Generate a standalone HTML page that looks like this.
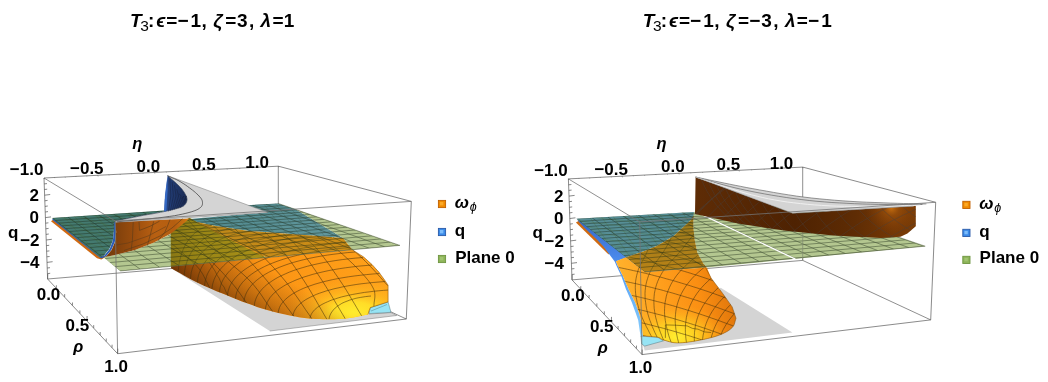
<!DOCTYPE html>
<html lang="en"><head><meta charset="utf-8"><title>T3 plots</title>
<style>html,body{margin:0;padding:0;background:#fff;}body{width:1048px;height:382px;overflow:hidden;}svg{display:block;}text{font-family:"Liberation Sans","DejaVu Sans",sans-serif;}</style></head>
<body>
<svg width="1048" height="382" viewBox="0 0 1048 382" font-family="'Liberation Sans', 'DejaVu Sans', sans-serif" fill="#000">
<defs>
<linearGradient id="gBlobL" gradientUnits="userSpaceOnUse" x1="171" y1="0" x2="392" y2="0">
 <stop offset="0" stop-color="#a0500c"/><stop offset="0.08" stop-color="#c4660e"/><stop offset="0.22" stop-color="#ea8412"/>
 <stop offset="0.42" stop-color="#fc9414"/><stop offset="1" stop-color="#ffa21a"/></linearGradient>
<radialGradient id="gBlobL2" gradientUnits="userSpaceOnUse" cx="354" cy="312" r="70" gradientTransform="translate(354 312) scale(1 0.48) translate(-354 -312)">
 <stop offset="0" stop-color="#ffec2e"/><stop offset="0.3" stop-color="#ffe028" stop-opacity="0.95"/><stop offset="0.6" stop-color="#ffc421" stop-opacity="0.55"/><stop offset="1" stop-color="#ffb020" stop-opacity="0"/></radialGradient>
<linearGradient id="gBlobL3" gradientUnits="userSpaceOnUse" x1="216" y1="302" x2="244" y2="254">
 <stop offset="0" stop-color="#4e2202" stop-opacity="0.7"/><stop offset="0.5" stop-color="#5a2804" stop-opacity="0.3"/><stop offset="1" stop-color="#6a3006" stop-opacity="0"/></linearGradient>
<linearGradient id="gOliveL" gradientUnits="userSpaceOnUse" x1="190" y1="0" x2="352" y2="0">
 <stop offset="0" stop-color="#bc881a"/><stop offset="0.5" stop-color="#c68a18"/><stop offset="1" stop-color="#cf8e16"/></linearGradient>
<linearGradient id="gTealR6" gradientUnits="userSpaceOnUse" x1="190" y1="0" x2="340" y2="0">
 <stop offset="0" stop-color="#4e878c"/><stop offset="1" stop-color="#62989e"/></linearGradient>
<linearGradient id="gOliveL2" gradientUnits="userSpaceOnUse" x1="171" y1="0" x2="266" y2="0">
 <stop offset="0" stop-color="#8a7814"/><stop offset="0.3" stop-color="#9a8616"/><stop offset="1" stop-color="#a89018"/></linearGradient>
<linearGradient id="gWallL" gradientUnits="userSpaceOnUse" x1="112" y1="0" x2="190" y2="0">
 <stop offset="0" stop-color="#7a3e0c"/><stop offset="0.3" stop-color="#9c4e0e"/><stop offset="0.55" stop-color="#b86012"/><stop offset="0.8" stop-color="#b45e10"/><stop offset="0.93" stop-color="#c87012"/><stop offset="1" stop-color="#e08a16"/></linearGradient>
<linearGradient id="gSpire" gradientUnits="userSpaceOnUse" x1="165" y1="0" x2="188" y2="0">
 <stop offset="0" stop-color="#28488a"/><stop offset="0.3" stop-color="#213a70"/><stop offset="1" stop-color="#1a2a52"/></linearGradient>
<linearGradient id="gBlueR" gradientUnits="userSpaceOnUse" x1="0" y1="220" x2="0" y2="340">
 <stop offset="0" stop-color="#3468c8"/><stop offset="0.3" stop-color="#4a88ea"/><stop offset="0.55" stop-color="#64acf6"/><stop offset="1" stop-color="#8ad0fc"/></linearGradient>
<linearGradient id="gOliveR" gradientUnits="userSpaceOnUse" x1="0" y1="215" x2="0" y2="270">
 <stop offset="0" stop-color="#9a7a1e"/><stop offset="0.5" stop-color="#a87e1a"/><stop offset="1" stop-color="#b88216"/></linearGradient>
<linearGradient id="gSurfR" gradientUnits="userSpaceOnUse" x1="98" y1="292" x2="212" y2="268">
 <stop offset="0" stop-color="#ffb22c"/><stop offset="0.35" stop-color="#ff9e1c"/><stop offset="0.65" stop-color="#fa8e12"/><stop offset="0.88" stop-color="#e47a0c"/><stop offset="1" stop-color="#bc5c06"/></linearGradient>
<radialGradient id="gSurfR2" gradientUnits="userSpaceOnUse" cx="152" cy="336" r="52" gradientTransform="translate(152 336) scale(1 0.62) translate(-152 -336)">
 <stop offset="0" stop-color="#ffee30"/><stop offset="0.4" stop-color="#ffd822" stop-opacity="0.85"/><stop offset="1" stop-color="#ffb020" stop-opacity="0"/></radialGradient>
<linearGradient id="gWallR" gradientUnits="userSpaceOnUse" x1="171" y1="0" x2="392" y2="0">
 <stop offset="0" stop-color="#5e2c06"/><stop offset="0.45" stop-color="#4e2202"/><stop offset="0.72" stop-color="#5e2c04"/><stop offset="0.9" stop-color="#743806"/><stop offset="1" stop-color="#7a3c06"/></linearGradient>
<radialGradient id="gWallR2" gradientUnits="userSpaceOnUse" cx="367" cy="207" r="26">
 <stop offset="0" stop-color="#c87010"/><stop offset="0.3" stop-color="#a8580c" stop-opacity="0.55"/><stop offset="1" stop-color="#8a4208" stop-opacity="0"/></radialGradient>
</defs>
<g><line x1="278.3" y1="166.2" x2="278.3" y2="259.5" stroke="#5e5e5e" stroke-width="0.7" />
<line x1="47.6" y1="279.0" x2="278.3" y2="259.5" stroke="#5e5e5e" stroke-width="0.7" />
<line x1="278.3" y1="259.5" x2="406.3" y2="319.0" stroke="#5e5e5e" stroke-width="0.7" />
<polygon points="51.0,221.2 54.0,219.0 104.0,255.5 105.4,256.9 101.4,259.6 97.0,258.2" fill="#d06a12" />
<polygon points="52.0,219.4 54.5,218.6 104.0,255.2 100.3,258.0 98.6,256.6 61.0,226.6" fill="#2a5cb4" />
<polygon points="171.2,268.2 269.8,331.0 396.7,315.5 391.0,312.6 369.0,314.0 368.0,314.5 364.3,315.2 360.7,316.0 357.1,316.8 353.4,317.5 349.7,318.1 346.0,318.6 342.2,318.9 338.4,319.1 334.6,319.3 330.7,319.3 326.8,319.3 323.0,319.2 319.3,319.1 315.7,319.0 312.1,318.8 308.4,318.5 304.4,318.1 300.0,317.4 295.1,316.5 289.7,315.5 284.0,314.3 278.2,312.9 272.5,311.5 267.0,310.0 261.8,308.5 256.9,306.9 252.0,305.1 247.1,303.3 241.9,301.4 236.4,299.2 230.3,296.8 223.8,294.1 217.1,291.4 210.4,288.5 204.0,285.7 198.2,283.0 193.1,280.5 188.4,278.0 184.0,275.5 179.8,273.1 175.6,270.7 171.2,268.2" fill="#d4d4d4" />
<polyline points="269.8,331.0 396.7,315.5 391.0,312.6 369.0,314.0" fill="none" stroke="#777" stroke-width="0.5" />
<polygon points="388.1,301.9 391.0,312.3 369.1,313.6 370.3,307.6" fill="#97e4f4" stroke="#3a5a66" stroke-width="0.4"/>
<polyline points="371.0,311.0 387.0,304.5" fill="none" stroke="#3a6a7a" stroke-width="0.4" />
<clipPath id="LblobU"><polygon points="170.8,228.0 189.6,217.8 190.4,220.5 214.5,225.7 249.1,230.9 283.6,233.5 318.2,236.1 343.0,238.0 352.3,249.7 170.8,266.4"/></clipPath>
<clipPath id="LblobD"><polygon points="171.0,266.3 352.3,249.7 363.7,257.0 372.0,264.5 379.0,272.3 384.6,280.0 388.1,285.2 388.1,301.9 370.3,307.6 369.0,311.0 368.0,314.5 364.3,315.2 360.7,316.0 357.1,316.8 353.4,317.5 349.7,318.1 346.0,318.6 342.2,318.9 338.4,319.1 334.6,319.3 330.7,319.3 326.8,319.3 323.0,319.2 319.3,319.1 315.7,319.0 312.1,318.8 308.4,318.5 304.4,318.1 300.0,317.4 295.1,316.5 289.7,315.5 284.0,314.3 278.2,312.9 272.5,311.5 267.0,310.0 261.8,308.5 256.9,306.9 252.0,305.1 247.1,303.3 241.9,301.4 236.4,299.2 230.3,296.8 223.8,294.1 217.1,291.4 210.4,288.5 204.0,285.7 198.2,283.0 193.1,280.5 188.4,278.0 184.0,275.5 179.8,273.1 175.6,270.7 171.2,268.2"/></clipPath>
<clipPath id="Lplane"><polygon points="52.0,217.9 164.4,210.4 164.2,211.6 139.0,216.2 115.3,221.3 114.0,230.0 112.8,240.7 109.4,248.7 104.0,255.4 100.0,257.2"/><polygon points="103.5,257.3 116.0,254.7 135.0,250.0 153.5,242.7 171.0,233.8 171.0,266.3 120.2,271.0"/><polygon points="170.8,228.0 189.6,217.8 190.4,220.5 214.5,225.7 249.1,230.9 283.6,233.5 318.2,236.1 343.0,238.0 352.3,249.7 170.8,266.4"/><polygon points="189.4,219.0 267.5,212.3 246.5,205.2 278.2,203.4 296.0,209.5 343.0,238.0 318.2,236.1 283.6,233.5 249.1,230.9 214.5,225.7 190.4,220.5 189.4,219.0"/><polygon points="296.0,209.5 400.0,245.4 352.3,249.7 343.0,238.0"/></clipPath>
<polygon points="171.0,266.3 352.3,249.7 363.7,257.0 372.0,264.5 379.0,272.3 384.6,280.0 388.1,285.2 388.1,301.9 370.3,307.6 369.0,311.0 368.0,314.5 364.3,315.2 360.7,316.0 357.1,316.8 353.4,317.5 349.7,318.1 346.0,318.6 342.2,318.9 338.4,319.1 334.6,319.3 330.7,319.3 326.8,319.3 323.0,319.2 319.3,319.1 315.7,319.0 312.1,318.8 308.4,318.5 304.4,318.1 300.0,317.4 295.1,316.5 289.7,315.5 284.0,314.3 278.2,312.9 272.5,311.5 267.0,310.0 261.8,308.5 256.9,306.9 252.0,305.1 247.1,303.3 241.9,301.4 236.4,299.2 230.3,296.8 223.8,294.1 217.1,291.4 210.4,288.5 204.0,285.7 198.2,283.0 193.1,280.5 188.4,278.0 184.0,275.5 179.8,273.1 175.6,270.7 171.2,268.2" fill="url(#gBlobL)" />
<polygon points="171.0,266.3 352.3,249.7 363.7,257.0 372.0,264.5 379.0,272.3 384.6,280.0 388.1,285.2 388.1,301.9 370.3,307.6 369.0,311.0 368.0,314.5 364.3,315.2 360.7,316.0 357.1,316.8 353.4,317.5 349.7,318.1 346.0,318.6 342.2,318.9 338.4,319.1 334.6,319.3 330.7,319.3 326.8,319.3 323.0,319.2 319.3,319.1 315.7,319.0 312.1,318.8 308.4,318.5 304.4,318.1 300.0,317.4 295.1,316.5 289.7,315.5 284.0,314.3 278.2,312.9 272.5,311.5 267.0,310.0 261.8,308.5 256.9,306.9 252.0,305.1 247.1,303.3 241.9,301.4 236.4,299.2 230.3,296.8 223.8,294.1 217.1,291.4 210.4,288.5 204.0,285.7 198.2,283.0 193.1,280.5 188.4,278.0 184.0,275.5 179.8,273.1 175.6,270.7 171.2,268.2" fill="url(#gBlobL2)" />
<polygon points="171.0,266.3 352.3,249.7 363.7,257.0 372.0,264.5 379.0,272.3 384.6,280.0 388.1,285.2 388.1,301.9 370.3,307.6 369.0,311.0 368.0,314.5 364.3,315.2 360.7,316.0 357.1,316.8 353.4,317.5 349.7,318.1 346.0,318.6 342.2,318.9 338.4,319.1 334.6,319.3 330.7,319.3 326.8,319.3 323.0,319.2 319.3,319.1 315.7,319.0 312.1,318.8 308.4,318.5 304.4,318.1 300.0,317.4 295.1,316.5 289.7,315.5 284.0,314.3 278.2,312.9 272.5,311.5 267.0,310.0 261.8,308.5 256.9,306.9 252.0,305.1 247.1,303.3 241.9,301.4 236.4,299.2 230.3,296.8 223.8,294.1 217.1,291.4 210.4,288.5 204.0,285.7 198.2,283.0 193.1,280.5 188.4,278.0 184.0,275.5 179.8,273.1 175.6,270.7 171.2,268.2" fill="url(#gBlobL3)" />
<polygon points="52.0,217.9 164.4,210.4 164.2,211.6 139.0,216.2 115.3,221.3 114.0,230.0 112.8,240.7 109.4,248.7 104.0,255.4 100.0,257.2" fill="#447a70" />
<polygon points="189.4,219.0 267.5,212.3 246.5,205.2 278.2,203.4 296.0,209.5 343.0,238.0 318.2,236.1 283.6,233.5 249.1,230.9 214.5,225.7 190.4,220.5 189.4,219.0" fill="url(#gTealR6)" />
<polygon points="103.5,257.3 116.0,254.7 135.0,250.0 153.5,242.7 171.0,233.8 171.0,266.3 120.2,271.0" fill="#b4c790" />
<polygon points="296.0,209.5 400.0,245.4 352.3,249.7 343.0,238.0" fill="#b4c790" />
<polygon points="189.4,219.0 190.4,220.5 214.5,225.7 249.1,230.9 283.6,233.5 318.2,236.1 343.0,238.0 352.3,249.7 266.4,257.6 197.3,222.3" fill="url(#gOliveL)" />
<polygon points="170.8,228.0 189.6,217.8 197.3,222.3 266.4,257.6 170.8,266.4" fill="url(#gOliveL2)" />
<line x1="198.5" y1="223.0" x2="263.0" y2="255.8" stroke="#e0900c" stroke-width="0.9" />
<g clip-path="url(#LblobD)"><polyline points="171.0,243.0 172.9,244.6 174.8,246.2 176.7,247.8 178.6,249.4 180.4,251.1 182.3,252.7 184.2,254.3 186.0,256.0 187.8,257.7 189.7,259.3 191.5,261.0 193.3,262.7 195.1,264.4 196.8,266.2 198.4,268.0 200.0,270.0 201.4,272.1 202.8,274.3 204.0,276.6 205.2,279.0 206.4,281.4 207.6,283.8 208.8,286.2 210.0,288.5" fill="none" stroke="#46320f" stroke-width="0.55" />
<polyline points="171.0,226.0 174.6,228.9 178.2,231.8 181.8,234.6 185.4,237.5 189.0,240.4 192.6,243.4 196.3,246.6 200.0,250.0 203.9,253.7 208.0,257.7 212.1,261.9 216.3,266.2 220.4,270.4 224.3,274.6 227.8,278.4 231.0,282.0 233.7,285.2 236.1,288.1 238.1,290.8 239.9,293.4 241.7,295.9 243.4,298.4 245.1,300.9 247.0,303.5" fill="none" stroke="#46320f" stroke-width="0.55" />
<polyline points="188.0,220.0 191.7,224.0 195.3,228.0 199.0,232.1 202.6,236.1 206.3,240.1 210.0,244.1 213.8,248.1 217.7,252.0 221.8,255.8 226.0,259.6 230.4,263.4 234.8,267.1 239.2,270.8 243.4,274.5 247.4,278.3 251.0,282.0 254.3,285.8 257.3,289.5 260.1,293.2 262.7,297.0 265.2,300.8 267.8,304.5 270.3,308.2 273.0,312.0" fill="none" stroke="#46320f" stroke-width="0.55" />
<polyline points="213.0,225.5 216.5,228.8 220.0,232.0 223.5,235.3 227.1,238.5 230.6,241.8 234.1,245.1 237.5,248.5 241.0,252.0 244.4,255.6 247.8,259.1 251.2,262.8 254.6,266.5 258.0,270.3 261.3,274.1 264.7,278.0 268.0,282.0 271.3,286.1 274.6,290.3 277.8,294.6 281.1,299.0 284.3,303.4 287.5,307.8 290.8,312.2 294.0,316.6" fill="none" stroke="#46320f" stroke-width="0.55" />
<polyline points="235.0,229.0 237.9,231.8 240.8,234.6 243.7,237.3 246.6,240.1 249.5,242.9 252.5,245.8 255.6,248.8 258.7,252.0 261.9,255.4 265.3,258.8 268.7,262.4 272.2,266.1 275.7,269.9 279.2,273.8 282.6,277.9 286.0,282.0 289.3,286.3 292.6,290.8 295.8,295.4 299.1,300.1 302.3,304.8 305.5,309.6 308.8,314.3 312.0,319.0" fill="none" stroke="#46320f" stroke-width="0.55" />
<polyline points="265.0,232.0 267.4,234.5 269.7,237.0 272.0,239.4 274.4,241.8 276.7,244.3 279.1,246.9 281.5,249.7 284.0,252.7 286.5,255.9 289.0,259.2 291.6,262.7 294.2,266.3 296.8,270.0 299.5,273.9 302.1,277.9 304.8,282.0 307.5,286.3 310.3,290.8 313.0,295.5 315.8,300.2 318.6,305.1 321.4,309.9 324.2,314.8 327.0,319.5" fill="none" stroke="#46320f" stroke-width="0.55" />
<polyline points="283.0,233.5 285.2,235.5 287.3,237.4 289.4,239.1 291.5,241.0 293.6,242.9 295.9,245.1 298.2,247.5 300.6,250.3 303.2,253.5 305.9,257.1 308.6,260.9 311.5,264.9 314.4,269.1 317.3,273.4 320.2,277.7 323.0,282.0 325.8,286.4 328.6,290.9 331.4,295.5 334.2,300.2 337.0,304.9 339.8,309.6 342.6,314.3 345.4,319.0" fill="none" stroke="#46320f" stroke-width="0.55" />
<polyline points="300.0,235.0 302.1,236.6 304.1,238.1 306.1,239.4 308.1,240.8 310.1,242.4 312.3,244.2 314.5,246.3 317.0,249.0 319.7,252.2 322.6,255.9 325.6,259.9 328.8,264.2 331.9,268.7 335.0,273.2 338.1,277.7 341.0,282.0 343.8,286.2 346.5,290.5 349.1,294.8 351.7,299.2 354.3,303.5 356.8,307.8 359.4,312.2 362.0,316.5" fill="none" stroke="#46320f" stroke-width="0.55" />
<polyline points="317.0,236.5 319.0,237.7 321.0,238.8 322.9,239.8 324.8,240.9 326.8,242.1 328.9,243.4 331.2,244.9 333.6,246.8 336.3,249.0 339.4,251.6 342.6,254.3 345.9,257.3 349.1,260.3 352.3,263.3 355.3,266.2 358.0,269.0 360.5,271.6 362.9,274.3 365.2,276.8 367.4,279.4 369.3,281.9 371.1,284.4 372.5,286.8 373.7,289.2 374.5,291.5 374.8,293.7 374.9,295.9 374.8,298.0 374.5,300.1 374.2,302.2 374.0,304.4 373.9,306.5" fill="none" stroke="#46320f" stroke-width="0.55" />
<polyline points="333.0,237.3 334.8,238.3 336.6,239.1 338.3,240.0 340.1,240.8 341.9,241.7 343.7,242.8 345.7,244.1 347.8,245.6 350.1,247.4 352.5,249.4 355.0,251.6 357.6,254.0 360.2,256.4 362.9,258.9 365.5,261.5 368.0,264.0 370.5,266.6 373.0,269.2 375.5,271.9 377.9,274.6 380.4,277.4 382.9,280.2 385.3,283.0 387.8,285.7" fill="none" stroke="#46320f" stroke-width="0.55" />
<polyline points="345.0,240.0 347.1,241.4 349.2,242.6 351.3,243.8 353.4,245.1 355.5,246.4 357.6,247.9 359.8,249.5 362.0,251.5 364.3,253.8 366.6,256.3 368.9,259.1 371.3,262.0 373.7,265.0 376.1,268.0 378.4,271.0 380.8,273.9" fill="none" stroke="#46320f" stroke-width="0.55" />
<polyline points="178.2,272.2 178.3,270.0 178.6,267.9 178.8,265.7 179.2,263.6 179.5,261.5 180.0,259.4 180.5,257.3 181.1,255.3 181.7,253.2 182.5,251.3 183.2,249.3 184.1,247.4 185.0,245.6 186.0,243.8 187.1,242.1 188.2,240.4 189.4,238.8 190.7,237.2 192.0,235.7 193.4,234.3 194.9,233.0 196.5,231.8 198.2,230.6 199.9,229.5 201.7,228.6 203.6,227.7 205.6,226.9 207.6,226.2 209.8,225.7 212.0,225.2" fill="none" stroke="#46320f" stroke-width="0.55" />
<polyline points="184.2,275.6 184.4,273.5 184.6,271.3 185.0,269.1 185.4,267.0 185.9,264.9 186.6,262.8 187.3,260.7 188.1,258.7 189.0,256.7 190.0,254.7 191.1,252.7 192.3,250.8 193.6,249.0 195.0,247.2 196.5,245.5 198.2,243.8 199.9,242.2 201.7,240.6 203.6,239.1 205.6,237.7 207.8,236.4 210.0,235.1 212.4,233.9 214.8,232.9 217.4,231.9 220.1,231.0 222.9,230.2 225.8,229.5 228.9,228.9 232.0,228.4" fill="none" stroke="#46320f" stroke-width="0.55" />
<polyline points="190.4,279.1 190.6,276.9 190.9,274.7 191.3,272.5 191.8,270.3 192.5,268.1 193.3,266.0 194.2,263.9 195.3,261.8 196.4,259.8 197.7,257.8 199.2,255.8 200.7,253.9 202.4,252.0 204.2,250.2 206.2,248.5 208.3,246.8 210.5,245.1 212.8,243.5 215.3,242.0 218.0,240.6 220.7,239.2 223.6,237.9 226.7,236.8 229.9,235.6 233.2,234.6 236.7,233.7 240.3,232.9 244.0,232.1 247.9,231.5 252.0,231.0" fill="none" stroke="#46320f" stroke-width="0.55" />
<polyline points="197.4,282.6 197.6,280.3 197.9,278.0 198.4,275.8 199.1,273.5 199.9,271.3 200.8,269.1 201.9,266.9 203.2,264.8 204.6,262.7 206.2,260.6 207.9,258.6 209.8,256.6 211.8,254.7 214.0,252.8 216.4,251.0 218.9,249.2 221.6,247.5 224.5,245.9 227.5,244.3 230.7,242.8 234.1,241.4 237.6,240.1 241.3,238.8 245.2,237.7 249.2,236.6 253.4,235.7 257.8,234.8 262.4,234.0 267.1,233.4 272.0,232.8" fill="none" stroke="#46320f" stroke-width="0.55" />
<polyline points="204.6,285.9 204.8,283.6 205.2,281.2 205.8,278.9 206.5,276.5 207.4,274.2 208.5,271.9 209.8,269.7 211.3,267.5 212.9,265.3 214.8,263.1 216.8,261.0 219.0,259.0 221.4,257.0 224.0,255.0 226.8,253.2 229.8,251.3 232.9,249.6 236.3,247.9 239.8,246.3 243.6,244.7 247.5,243.2 251.7,241.9 256.0,240.6 260.5,239.4 265.3,238.2 270.2,237.2 275.4,236.3 280.7,235.5 286.2,234.8 292.0,234.2" fill="none" stroke="#46320f" stroke-width="0.55" />
<polyline points="212.0,289.2 212.2,286.7 212.6,284.3 213.3,281.9 214.1,279.5 215.2,277.1 216.4,274.7 217.9,272.4 219.6,270.1 221.5,267.9 223.6,265.7 225.9,263.5 228.4,261.4 231.2,259.3 234.1,257.3 237.3,255.4 240.7,253.5 244.4,251.7 248.2,249.9 252.3,248.2 256.6,246.7 261.1,245.1 265.8,243.7 270.8,242.4 276.0,241.1 281.4,239.9 287.1,238.9 293.0,237.9 299.1,237.1 305.4,236.3 312.0,235.7" fill="none" stroke="#46320f" stroke-width="0.55" />
<polyline points="219.5,292.4 219.7,289.8 220.2,287.3 220.9,284.8 221.8,282.3 223.0,279.9 224.4,277.5 226.1,275.1 228.0,272.7 230.1,270.4 232.5,268.1 235.1,265.9 237.9,263.7 241.0,261.6 244.3,259.6 247.9,257.6 251.8,255.6 255.9,253.7 260.2,251.9 264.8,250.2 269.6,248.6 274.7,247.0 280.0,245.5 285.6,244.1 291.5,242.8 297.6,241.6 303.9,240.5 310.6,239.5 317.4,238.7 324.6,237.9 332.0,237.2" fill="none" stroke="#46320f" stroke-width="0.55" />
<polyline points="227.5,295.6 227.7,293.2 228.2,290.8 229.0,288.4 229.9,286.0 231.2,283.6 232.7,281.3 234.4,279.0 236.4,276.8 238.6,274.5 241.1,272.4 243.9,270.2 246.9,268.1 250.1,266.1 253.6,264.1 257.4,262.2 261.5,260.3 265.8,258.5 270.3,256.8 275.2,255.1 280.3,253.6 285.6,252.0 291.2,250.6 297.1,249.3 303.3,248.0 309.7,246.9 316.4,245.8 323.4,244.8 330.7,243.9 338.2,243.2 346.0,242.5" fill="none" stroke="#46320f" stroke-width="0.55" />
<polyline points="235.5,298.8 235.7,296.5 236.2,294.1 236.9,291.8 237.9,289.5 239.1,287.2 240.5,285.0 242.2,282.8 244.1,280.6 246.3,278.5 248.7,276.3 251.4,274.3 254.3,272.3 257.5,270.3 260.9,268.4 264.6,266.5 268.5,264.7 272.7,263.0 277.1,261.3 281.8,259.7 286.7,258.2 291.9,256.7 297.4,255.3 303.1,254.0 309.1,252.8 315.3,251.7 321.8,250.7 328.6,249.7 335.6,248.9 342.9,248.1 350.5,247.5" fill="none" stroke="#46320f" stroke-width="0.55" />
<polyline points="244.0,302.2 244.2,299.9 244.7,297.6 245.4,295.3 246.3,293.1 247.5,290.8 248.9,288.6 250.5,286.5 252.4,284.3 254.4,282.2 256.8,280.2 259.4,278.2 262.2,276.2 265.2,274.3 268.5,272.4 272.1,270.6 275.8,268.8 279.9,267.1 284.1,265.5 288.7,263.9 293.4,262.4 298.5,261.0 303.7,259.7 309.2,258.4 315.0,257.2 321.0,256.1 327.3,255.1 333.9,254.2 340.6,253.4 347.7,252.6 355.0,252.0" fill="none" stroke="#46320f" stroke-width="0.55" />
<polyline points="254.3,306.0 254.5,303.7 255.0,301.5 255.7,299.3 256.6,297.2 257.7,295.0 259.1,292.9 260.7,290.8 262.5,288.7 264.5,286.7 266.8,284.7 269.4,282.8 272.1,280.9 275.1,279.0 278.3,277.2 281.8,275.5 285.5,273.8 289.4,272.1 293.6,270.5 298.0,269.0 302.7,267.6 307.6,266.2 312.8,264.9 318.2,263.7 323.8,262.5 329.7,261.5 335.9,260.5 342.3,259.6 348.9,258.8 355.8,258.1 363.0,257.5" fill="none" stroke="#46320f" stroke-width="0.55" />
<polyline points="265.4,309.5 265.6,307.5 266.1,305.5 266.7,303.4 267.6,301.5 268.8,299.5 270.1,297.5 271.7,295.6 273.4,293.7 275.5,291.9 277.7,290.0 280.2,288.3 282.9,286.5 285.8,284.8 289.0,283.2 292.4,281.6 296.0,280.0 299.9,278.5 304.0,277.0 308.3,275.7 312.9,274.3 317.7,273.1 322.8,271.9 328.1,270.7 333.6,269.7 339.4,268.7 345.4,267.8 351.7,267.0 358.2,266.2 365.0,265.6 372.0,265.0" fill="none" stroke="#46320f" stroke-width="0.55" />
<polyline points="278.2,312.9 278.4,311.1 278.9,309.3 279.5,307.5 280.3,305.8 281.4,304.0 282.7,302.3 284.2,300.6 285.9,299.0 287.8,297.3 289.9,295.7 292.3,294.1 294.8,292.6 297.6,291.1 300.6,289.6 303.8,288.2 307.3,286.8 311.0,285.5 314.9,284.2 319.0,283.0 323.3,281.8 327.9,280.7 332.7,279.6 337.8,278.6 343.0,277.7 348.5,276.8 354.2,276.0 360.2,275.3 366.4,274.6 372.8,274.0 379.5,273.5" fill="none" stroke="#46320f" stroke-width="0.55" />
<polyline points="293.0,316.1 293.2,314.6 293.6,313.0 294.2,311.4 295.0,309.9 296.0,308.3 297.1,306.8 298.5,305.3 300.0,303.9 301.8,302.4 303.7,301.0 305.8,299.6 308.2,298.3 310.7,297.0 313.4,295.7 316.3,294.4 319.5,293.2 322.8,292.1 326.3,290.9 330.1,289.9 334.0,288.8 338.2,287.9 342.5,286.9 347.1,286.0 351.9,285.2 356.9,284.4 362.1,283.7 367.5,283.1 373.1,282.5 378.9,282.0 385.0,281.5" fill="none" stroke="#46320f" stroke-width="0.55" />
<polyline points="310.0,318.6 310.2,317.3 310.6,316.0 311.1,314.7 311.7,313.5 312.6,312.2 313.6,310.9 314.7,309.7 316.1,308.5 317.5,307.3 319.2,306.2 321.0,305.0 323.0,303.9 325.2,302.8 327.5,301.8 330.0,300.7 332.6,299.7 335.5,298.8 338.5,297.8 341.7,296.9 345.0,296.1 348.6,295.3 352.3,294.5 356.2,293.8 360.3,293.1 364.5,292.4 368.9,291.9 373.6,291.3 378.4,290.8 383.3,290.4 388.5,290.0" fill="none" stroke="#46320f" stroke-width="0.55" />
<polyline points="329.0,319.3 329.2,318.2 329.4,317.2 329.7,316.1 330.1,315.1 330.6,314.0 331.1,313.0 331.8,312.0 332.5,311.0 333.3,310.0 334.2,309.0 335.1,308.1 336.2,307.2 337.3,306.3 338.6,305.4 339.9,304.6 341.3,303.7 342.8,302.9 344.4,302.2 346.1,301.5 347.9,300.8 349.7,300.1 351.7,299.5 353.8,298.9 355.9,298.3 358.2,297.8 360.6,297.4 363.0,297.0 365.6,296.6 368.2,296.3 371.0,296.0" fill="none" stroke="#46320f" stroke-width="0.55" />
<polyline points="209.0,262.0 213.0,268.0 215.0,271.0 217.5,276.0 219.0,278.0 221.5,284.0 224.0,287.0 226.5,293.0 228.5,296.0" fill="none" stroke="#46320f" stroke-width="0.5" /></g>
<g clip-path="url(#LblobU)" opacity="0.8"><polyline points="171.0,243.0 172.9,244.6 174.8,246.2 176.7,247.8 178.6,249.4 180.4,251.1 182.3,252.7 184.2,254.3 186.0,256.0 187.8,257.7 189.7,259.3 191.5,261.0 193.3,262.7 195.1,264.4 196.8,266.2 198.4,268.0 200.0,270.0 201.4,272.1 202.8,274.3 204.0,276.6 205.2,279.0 206.4,281.4 207.6,283.8 208.8,286.2 210.0,288.5" fill="none" stroke="#4c4a18" stroke-width="0.6" />
<polyline points="171.0,226.0 174.6,228.9 178.2,231.8 181.8,234.6 185.4,237.5 189.0,240.4 192.6,243.4 196.3,246.6 200.0,250.0 203.9,253.7 208.0,257.7 212.1,261.9 216.3,266.2 220.4,270.4 224.3,274.6 227.8,278.4 231.0,282.0 233.7,285.2 236.1,288.1 238.1,290.8 239.9,293.4 241.7,295.9 243.4,298.4 245.1,300.9 247.0,303.5" fill="none" stroke="#4c4a18" stroke-width="0.6" />
<polyline points="188.0,220.0 191.7,224.0 195.3,228.0 199.0,232.1 202.6,236.1 206.3,240.1 210.0,244.1 213.8,248.1 217.7,252.0 221.8,255.8 226.0,259.6 230.4,263.4 234.8,267.1 239.2,270.8 243.4,274.5 247.4,278.3 251.0,282.0 254.3,285.8 257.3,289.5 260.1,293.2 262.7,297.0 265.2,300.8 267.8,304.5 270.3,308.2 273.0,312.0" fill="none" stroke="#4c4a18" stroke-width="0.6" />
<polyline points="213.0,225.5 216.5,228.8 220.0,232.0 223.5,235.3 227.1,238.5 230.6,241.8 234.1,245.1 237.5,248.5 241.0,252.0 244.4,255.6 247.8,259.1 251.2,262.8 254.6,266.5 258.0,270.3 261.3,274.1 264.7,278.0 268.0,282.0 271.3,286.1 274.6,290.3 277.8,294.6 281.1,299.0 284.3,303.4 287.5,307.8 290.8,312.2 294.0,316.6" fill="none" stroke="#4c4a18" stroke-width="0.6" />
<polyline points="235.0,229.0 237.9,231.8 240.8,234.6 243.7,237.3 246.6,240.1 249.5,242.9 252.5,245.8 255.6,248.8 258.7,252.0 261.9,255.4 265.3,258.8 268.7,262.4 272.2,266.1 275.7,269.9 279.2,273.8 282.6,277.9 286.0,282.0 289.3,286.3 292.6,290.8 295.8,295.4 299.1,300.1 302.3,304.8 305.5,309.6 308.8,314.3 312.0,319.0" fill="none" stroke="#4c4a18" stroke-width="0.6" />
<polyline points="265.0,232.0 267.4,234.5 269.7,237.0 272.0,239.4 274.4,241.8 276.7,244.3 279.1,246.9 281.5,249.7 284.0,252.7 286.5,255.9 289.0,259.2 291.6,262.7 294.2,266.3 296.8,270.0 299.5,273.9 302.1,277.9 304.8,282.0 307.5,286.3 310.3,290.8 313.0,295.5 315.8,300.2 318.6,305.1 321.4,309.9 324.2,314.8 327.0,319.5" fill="none" stroke="#4c4a18" stroke-width="0.6" />
<polyline points="283.0,233.5 285.2,235.5 287.3,237.4 289.4,239.1 291.5,241.0 293.6,242.9 295.9,245.1 298.2,247.5 300.6,250.3 303.2,253.5 305.9,257.1 308.6,260.9 311.5,264.9 314.4,269.1 317.3,273.4 320.2,277.7 323.0,282.0 325.8,286.4 328.6,290.9 331.4,295.5 334.2,300.2 337.0,304.9 339.8,309.6 342.6,314.3 345.4,319.0" fill="none" stroke="#4c4a18" stroke-width="0.6" />
<polyline points="300.0,235.0 302.1,236.6 304.1,238.1 306.1,239.4 308.1,240.8 310.1,242.4 312.3,244.2 314.5,246.3 317.0,249.0 319.7,252.2 322.6,255.9 325.6,259.9 328.8,264.2 331.9,268.7 335.0,273.2 338.1,277.7 341.0,282.0 343.8,286.2 346.5,290.5 349.1,294.8 351.7,299.2 354.3,303.5 356.8,307.8 359.4,312.2 362.0,316.5" fill="none" stroke="#4c4a18" stroke-width="0.6" />
<polyline points="317.0,236.5 319.0,237.7 321.0,238.8 322.9,239.8 324.8,240.9 326.8,242.1 328.9,243.4 331.2,244.9 333.6,246.8 336.3,249.0 339.4,251.6 342.6,254.3 345.9,257.3 349.1,260.3 352.3,263.3 355.3,266.2 358.0,269.0 360.5,271.6 362.9,274.3 365.2,276.8 367.4,279.4 369.3,281.9 371.1,284.4 372.5,286.8 373.7,289.2 374.5,291.5 374.8,293.7 374.9,295.9 374.8,298.0 374.5,300.1 374.2,302.2 374.0,304.4 373.9,306.5" fill="none" stroke="#4c4a18" stroke-width="0.6" />
<polyline points="333.0,237.3 334.8,238.3 336.6,239.1 338.3,240.0 340.1,240.8 341.9,241.7 343.7,242.8 345.7,244.1 347.8,245.6 350.1,247.4 352.5,249.4 355.0,251.6 357.6,254.0 360.2,256.4 362.9,258.9 365.5,261.5 368.0,264.0 370.5,266.6 373.0,269.2 375.5,271.9 377.9,274.6 380.4,277.4 382.9,280.2 385.3,283.0 387.8,285.7" fill="none" stroke="#4c4a18" stroke-width="0.6" />
<polyline points="345.0,240.0 347.1,241.4 349.2,242.6 351.3,243.8 353.4,245.1 355.5,246.4 357.6,247.9 359.8,249.5 362.0,251.5 364.3,253.8 366.6,256.3 368.9,259.1 371.3,262.0 373.7,265.0 376.1,268.0 378.4,271.0 380.8,273.9" fill="none" stroke="#4c4a18" stroke-width="0.6" />
<polyline points="178.2,272.2 178.3,270.0 178.6,267.9 178.8,265.7 179.2,263.6 179.5,261.5 180.0,259.4 180.5,257.3 181.1,255.3 181.7,253.2 182.5,251.3 183.2,249.3 184.1,247.4 185.0,245.6 186.0,243.8 187.1,242.1 188.2,240.4 189.4,238.8 190.7,237.2 192.0,235.7 193.4,234.3 194.9,233.0 196.5,231.8 198.2,230.6 199.9,229.5 201.7,228.6 203.6,227.7 205.6,226.9 207.6,226.2 209.8,225.7 212.0,225.2" fill="none" stroke="#4c4a18" stroke-width="0.6" />
<polyline points="184.2,275.6 184.4,273.5 184.6,271.3 185.0,269.1 185.4,267.0 185.9,264.9 186.6,262.8 187.3,260.7 188.1,258.7 189.0,256.7 190.0,254.7 191.1,252.7 192.3,250.8 193.6,249.0 195.0,247.2 196.5,245.5 198.2,243.8 199.9,242.2 201.7,240.6 203.6,239.1 205.6,237.7 207.8,236.4 210.0,235.1 212.4,233.9 214.8,232.9 217.4,231.9 220.1,231.0 222.9,230.2 225.8,229.5 228.9,228.9 232.0,228.4" fill="none" stroke="#4c4a18" stroke-width="0.6" />
<polyline points="190.4,279.1 190.6,276.9 190.9,274.7 191.3,272.5 191.8,270.3 192.5,268.1 193.3,266.0 194.2,263.9 195.3,261.8 196.4,259.8 197.7,257.8 199.2,255.8 200.7,253.9 202.4,252.0 204.2,250.2 206.2,248.5 208.3,246.8 210.5,245.1 212.8,243.5 215.3,242.0 218.0,240.6 220.7,239.2 223.6,237.9 226.7,236.8 229.9,235.6 233.2,234.6 236.7,233.7 240.3,232.9 244.0,232.1 247.9,231.5 252.0,231.0" fill="none" stroke="#4c4a18" stroke-width="0.6" />
<polyline points="197.4,282.6 197.6,280.3 197.9,278.0 198.4,275.8 199.1,273.5 199.9,271.3 200.8,269.1 201.9,266.9 203.2,264.8 204.6,262.7 206.2,260.6 207.9,258.6 209.8,256.6 211.8,254.7 214.0,252.8 216.4,251.0 218.9,249.2 221.6,247.5 224.5,245.9 227.5,244.3 230.7,242.8 234.1,241.4 237.6,240.1 241.3,238.8 245.2,237.7 249.2,236.6 253.4,235.7 257.8,234.8 262.4,234.0 267.1,233.4 272.0,232.8" fill="none" stroke="#4c4a18" stroke-width="0.6" />
<polyline points="204.6,285.9 204.8,283.6 205.2,281.2 205.8,278.9 206.5,276.5 207.4,274.2 208.5,271.9 209.8,269.7 211.3,267.5 212.9,265.3 214.8,263.1 216.8,261.0 219.0,259.0 221.4,257.0 224.0,255.0 226.8,253.2 229.8,251.3 232.9,249.6 236.3,247.9 239.8,246.3 243.6,244.7 247.5,243.2 251.7,241.9 256.0,240.6 260.5,239.4 265.3,238.2 270.2,237.2 275.4,236.3 280.7,235.5 286.2,234.8 292.0,234.2" fill="none" stroke="#4c4a18" stroke-width="0.6" />
<polyline points="212.0,289.2 212.2,286.7 212.6,284.3 213.3,281.9 214.1,279.5 215.2,277.1 216.4,274.7 217.9,272.4 219.6,270.1 221.5,267.9 223.6,265.7 225.9,263.5 228.4,261.4 231.2,259.3 234.1,257.3 237.3,255.4 240.7,253.5 244.4,251.7 248.2,249.9 252.3,248.2 256.6,246.7 261.1,245.1 265.8,243.7 270.8,242.4 276.0,241.1 281.4,239.9 287.1,238.9 293.0,237.9 299.1,237.1 305.4,236.3 312.0,235.7" fill="none" stroke="#4c4a18" stroke-width="0.6" />
<polyline points="219.5,292.4 219.7,289.8 220.2,287.3 220.9,284.8 221.8,282.3 223.0,279.9 224.4,277.5 226.1,275.1 228.0,272.7 230.1,270.4 232.5,268.1 235.1,265.9 237.9,263.7 241.0,261.6 244.3,259.6 247.9,257.6 251.8,255.6 255.9,253.7 260.2,251.9 264.8,250.2 269.6,248.6 274.7,247.0 280.0,245.5 285.6,244.1 291.5,242.8 297.6,241.6 303.9,240.5 310.6,239.5 317.4,238.7 324.6,237.9 332.0,237.2" fill="none" stroke="#4c4a18" stroke-width="0.6" />
<polyline points="227.5,295.6 227.7,293.2 228.2,290.8 229.0,288.4 229.9,286.0 231.2,283.6 232.7,281.3 234.4,279.0 236.4,276.8 238.6,274.5 241.1,272.4 243.9,270.2 246.9,268.1 250.1,266.1 253.6,264.1 257.4,262.2 261.5,260.3 265.8,258.5 270.3,256.8 275.2,255.1 280.3,253.6 285.6,252.0 291.2,250.6 297.1,249.3 303.3,248.0 309.7,246.9 316.4,245.8 323.4,244.8 330.7,243.9 338.2,243.2 346.0,242.5" fill="none" stroke="#4c4a18" stroke-width="0.6" />
<polyline points="235.5,298.8 235.7,296.5 236.2,294.1 236.9,291.8 237.9,289.5 239.1,287.2 240.5,285.0 242.2,282.8 244.1,280.6 246.3,278.5 248.7,276.3 251.4,274.3 254.3,272.3 257.5,270.3 260.9,268.4 264.6,266.5 268.5,264.7 272.7,263.0 277.1,261.3 281.8,259.7 286.7,258.2 291.9,256.7 297.4,255.3 303.1,254.0 309.1,252.8 315.3,251.7 321.8,250.7 328.6,249.7 335.6,248.9 342.9,248.1 350.5,247.5" fill="none" stroke="#4c4a18" stroke-width="0.6" />
<polyline points="244.0,302.2 244.2,299.9 244.7,297.6 245.4,295.3 246.3,293.1 247.5,290.8 248.9,288.6 250.5,286.5 252.4,284.3 254.4,282.2 256.8,280.2 259.4,278.2 262.2,276.2 265.2,274.3 268.5,272.4 272.1,270.6 275.8,268.8 279.9,267.1 284.1,265.5 288.7,263.9 293.4,262.4 298.5,261.0 303.7,259.7 309.2,258.4 315.0,257.2 321.0,256.1 327.3,255.1 333.9,254.2 340.6,253.4 347.7,252.6 355.0,252.0" fill="none" stroke="#4c4a18" stroke-width="0.6" />
<polyline points="254.3,306.0 254.5,303.7 255.0,301.5 255.7,299.3 256.6,297.2 257.7,295.0 259.1,292.9 260.7,290.8 262.5,288.7 264.5,286.7 266.8,284.7 269.4,282.8 272.1,280.9 275.1,279.0 278.3,277.2 281.8,275.5 285.5,273.8 289.4,272.1 293.6,270.5 298.0,269.0 302.7,267.6 307.6,266.2 312.8,264.9 318.2,263.7 323.8,262.5 329.7,261.5 335.9,260.5 342.3,259.6 348.9,258.8 355.8,258.1 363.0,257.5" fill="none" stroke="#4c4a18" stroke-width="0.6" />
<polyline points="265.4,309.5 265.6,307.5 266.1,305.5 266.7,303.4 267.6,301.5 268.8,299.5 270.1,297.5 271.7,295.6 273.4,293.7 275.5,291.9 277.7,290.0 280.2,288.3 282.9,286.5 285.8,284.8 289.0,283.2 292.4,281.6 296.0,280.0 299.9,278.5 304.0,277.0 308.3,275.7 312.9,274.3 317.7,273.1 322.8,271.9 328.1,270.7 333.6,269.7 339.4,268.7 345.4,267.8 351.7,267.0 358.2,266.2 365.0,265.6 372.0,265.0" fill="none" stroke="#4c4a18" stroke-width="0.6" />
<polyline points="278.2,312.9 278.4,311.1 278.9,309.3 279.5,307.5 280.3,305.8 281.4,304.0 282.7,302.3 284.2,300.6 285.9,299.0 287.8,297.3 289.9,295.7 292.3,294.1 294.8,292.6 297.6,291.1 300.6,289.6 303.8,288.2 307.3,286.8 311.0,285.5 314.9,284.2 319.0,283.0 323.3,281.8 327.9,280.7 332.7,279.6 337.8,278.6 343.0,277.7 348.5,276.8 354.2,276.0 360.2,275.3 366.4,274.6 372.8,274.0 379.5,273.5" fill="none" stroke="#4c4a18" stroke-width="0.6" />
<polyline points="293.0,316.1 293.2,314.6 293.6,313.0 294.2,311.4 295.0,309.9 296.0,308.3 297.1,306.8 298.5,305.3 300.0,303.9 301.8,302.4 303.7,301.0 305.8,299.6 308.2,298.3 310.7,297.0 313.4,295.7 316.3,294.4 319.5,293.2 322.8,292.1 326.3,290.9 330.1,289.9 334.0,288.8 338.2,287.9 342.5,286.9 347.1,286.0 351.9,285.2 356.9,284.4 362.1,283.7 367.5,283.1 373.1,282.5 378.9,282.0 385.0,281.5" fill="none" stroke="#4c4a18" stroke-width="0.6" />
<polyline points="310.0,318.6 310.2,317.3 310.6,316.0 311.1,314.7 311.7,313.5 312.6,312.2 313.6,310.9 314.7,309.7 316.1,308.5 317.5,307.3 319.2,306.2 321.0,305.0 323.0,303.9 325.2,302.8 327.5,301.8 330.0,300.7 332.6,299.7 335.5,298.8 338.5,297.8 341.7,296.9 345.0,296.1 348.6,295.3 352.3,294.5 356.2,293.8 360.3,293.1 364.5,292.4 368.9,291.9 373.6,291.3 378.4,290.8 383.3,290.4 388.5,290.0" fill="none" stroke="#4c4a18" stroke-width="0.6" />
<polyline points="329.0,319.3 329.2,318.2 329.4,317.2 329.7,316.1 330.1,315.1 330.6,314.0 331.1,313.0 331.8,312.0 332.5,311.0 333.3,310.0 334.2,309.0 335.1,308.1 336.2,307.2 337.3,306.3 338.6,305.4 339.9,304.6 341.3,303.7 342.8,302.9 344.4,302.2 346.1,301.5 347.9,300.8 349.7,300.1 351.7,299.5 353.8,298.9 355.9,298.3 358.2,297.8 360.6,297.4 363.0,297.0 365.6,296.6 368.2,296.3 371.0,296.0" fill="none" stroke="#4c4a18" stroke-width="0.6" />
<polyline points="209.0,262.0 213.0,268.0 215.0,271.0 217.5,276.0 219.0,278.0 221.5,284.0 224.0,287.0 226.5,293.0 228.5,296.0" fill="none" stroke="#4c4a18" stroke-width="0.5" /></g>
<clipPath id="LtealA"><polygon points="52.0,217.9 164.4,210.4 164.2,211.6 139.0,216.2 115.3,221.3 114.0,230.0 112.8,240.7 109.4,248.7 104.0,255.4 100.0,257.2"/></clipPath><clipPath id="LtealB"><polygon points="189.4,219.0 267.5,212.3 246.5,205.2 278.2,203.4 296.0,209.5 343.0,238.0 318.2,236.1 283.6,233.5 249.1,230.9 214.5,225.7 190.4,220.5 189.4,219.0"/></clipPath>
<g clip-path="url(#LtealA)"><g opacity="0.45"><line x1="0.9" y1="208.0" x2="50.0" y2="262.0" stroke="#4c6a24" stroke-width="0.55" />
<line x1="11.9" y1="208.0" x2="61.0" y2="262.0" stroke="#4c6a24" stroke-width="0.55" />
<line x1="22.9" y1="208.0" x2="72.0" y2="262.0" stroke="#4c6a24" stroke-width="0.55" />
<line x1="33.9" y1="208.0" x2="83.0" y2="262.0" stroke="#4c6a24" stroke-width="0.55" />
<line x1="44.9" y1="208.0" x2="94.0" y2="262.0" stroke="#4c6a24" stroke-width="0.55" />
<line x1="55.9" y1="208.0" x2="105.0" y2="262.0" stroke="#4c6a24" stroke-width="0.55" />
<line x1="66.9" y1="208.0" x2="116.0" y2="262.0" stroke="#4c6a24" stroke-width="0.55" />
<line x1="77.9" y1="208.0" x2="127.0" y2="262.0" stroke="#4c6a24" stroke-width="0.55" />
<line x1="88.9" y1="208.0" x2="138.0" y2="262.0" stroke="#4c6a24" stroke-width="0.55" />
<line x1="99.9" y1="208.0" x2="149.0" y2="262.0" stroke="#4c6a24" stroke-width="0.55" />
<line x1="110.9" y1="208.0" x2="160.0" y2="262.0" stroke="#4c6a24" stroke-width="0.55" />
<line x1="121.9" y1="208.0" x2="171.0" y2="262.0" stroke="#4c6a24" stroke-width="0.55" />
<line x1="132.9" y1="208.0" x2="182.0" y2="262.0" stroke="#4c6a24" stroke-width="0.55" />
<line x1="143.9" y1="208.0" x2="193.0" y2="262.0" stroke="#4c6a24" stroke-width="0.55" />
<line x1="154.9" y1="208.0" x2="204.0" y2="262.0" stroke="#4c6a24" stroke-width="0.55" />
<line x1="165.9" y1="208.0" x2="215.0" y2="262.0" stroke="#4c6a24" stroke-width="0.55" />
<line x1="50.0" y1="172.0" x2="170.0" y2="208.0" stroke="#4c6a24" stroke-width="0.55" />
<line x1="50.0" y1="178.0" x2="170.0" y2="214.0" stroke="#4c6a24" stroke-width="0.55" />
<line x1="50.0" y1="184.0" x2="170.0" y2="220.0" stroke="#4c6a24" stroke-width="0.55" />
<line x1="50.0" y1="190.0" x2="170.0" y2="226.0" stroke="#4c6a24" stroke-width="0.55" />
<line x1="50.0" y1="196.0" x2="170.0" y2="232.0" stroke="#4c6a24" stroke-width="0.55" />
<line x1="50.0" y1="202.0" x2="170.0" y2="238.0" stroke="#4c6a24" stroke-width="0.55" />
<line x1="50.0" y1="208.0" x2="170.0" y2="244.0" stroke="#4c6a24" stroke-width="0.55" />
<line x1="50.0" y1="214.0" x2="170.0" y2="250.0" stroke="#4c6a24" stroke-width="0.55" />
<line x1="50.0" y1="220.0" x2="170.0" y2="256.0" stroke="#4c6a24" stroke-width="0.55" />
<line x1="50.0" y1="226.0" x2="170.0" y2="262.0" stroke="#4c6a24" stroke-width="0.55" />
<line x1="50.0" y1="232.0" x2="170.0" y2="268.0" stroke="#4c6a24" stroke-width="0.55" />
<line x1="50.0" y1="238.0" x2="170.0" y2="274.0" stroke="#4c6a24" stroke-width="0.55" />
<line x1="50.0" y1="244.0" x2="170.0" y2="280.0" stroke="#4c6a24" stroke-width="0.55" />
<line x1="50.0" y1="250.0" x2="170.0" y2="286.0" stroke="#4c6a24" stroke-width="0.55" />
<line x1="50.0" y1="256.0" x2="170.0" y2="292.0" stroke="#4c6a24" stroke-width="0.55" /></g></g>
<g clip-path="url(#LtealB)"><g opacity="0.45"><line x1="152.7" y1="200.0" x2="185.0" y2="242.0" stroke="#3a5a4a" stroke-width="0.55" />
<line x1="164.7" y1="200.0" x2="197.0" y2="242.0" stroke="#3a5a4a" stroke-width="0.55" />
<line x1="176.7" y1="200.0" x2="209.0" y2="242.0" stroke="#3a5a4a" stroke-width="0.55" />
<line x1="188.7" y1="200.0" x2="221.0" y2="242.0" stroke="#3a5a4a" stroke-width="0.55" />
<line x1="200.7" y1="200.0" x2="233.0" y2="242.0" stroke="#3a5a4a" stroke-width="0.55" />
<line x1="212.7" y1="200.0" x2="245.0" y2="242.0" stroke="#3a5a4a" stroke-width="0.55" />
<line x1="224.7" y1="200.0" x2="257.0" y2="242.0" stroke="#3a5a4a" stroke-width="0.55" />
<line x1="236.7" y1="200.0" x2="269.0" y2="242.0" stroke="#3a5a4a" stroke-width="0.55" />
<line x1="248.7" y1="200.0" x2="281.0" y2="242.0" stroke="#3a5a4a" stroke-width="0.55" />
<line x1="260.7" y1="200.0" x2="293.0" y2="242.0" stroke="#3a5a4a" stroke-width="0.55" />
<line x1="272.7" y1="200.0" x2="305.0" y2="242.0" stroke="#3a5a4a" stroke-width="0.55" />
<line x1="284.7" y1="200.0" x2="317.0" y2="242.0" stroke="#3a5a4a" stroke-width="0.55" />
<line x1="296.7" y1="200.0" x2="329.0" y2="242.0" stroke="#3a5a4a" stroke-width="0.55" />
<line x1="308.7" y1="200.0" x2="341.0" y2="242.0" stroke="#3a5a4a" stroke-width="0.55" />
<line x1="320.7" y1="200.0" x2="353.0" y2="242.0" stroke="#3a5a4a" stroke-width="0.55" />
<line x1="332.7" y1="200.0" x2="365.0" y2="242.0" stroke="#3a5a4a" stroke-width="0.55" />
<line x1="344.7" y1="200.0" x2="377.0" y2="242.0" stroke="#3a5a4a" stroke-width="0.55" /></g></g>
<g clip-path="url(#Lplane)"><g opacity="0.7"><line x1="52.0" y1="217.9" x2="120.2" y2="271.0" stroke="#1c2a18" stroke-width="0.6" />
<line x1="52.0" y1="217.9" x2="278.2" y2="203.4" stroke="#1c2a18" stroke-width="0.6" />
<line x1="67.7" y1="216.9" x2="140.2" y2="269.2" stroke="#1c2a18" stroke-width="0.6" />
<line x1="55.3" y1="220.5" x2="284.2" y2="205.5" stroke="#1c2a18" stroke-width="0.6" />
<line x1="83.1" y1="215.9" x2="159.8" y2="267.4" stroke="#1c2a18" stroke-width="0.6" />
<line x1="58.7" y1="223.1" x2="290.5" y2="207.6" stroke="#1c2a18" stroke-width="0.6" />
<line x1="98.3" y1="214.9" x2="179.0" y2="265.6" stroke="#1c2a18" stroke-width="0.6" />
<line x1="62.2" y1="225.8" x2="296.8" y2="209.8" stroke="#1c2a18" stroke-width="0.6" />
<line x1="113.4" y1="214.0" x2="197.9" y2="263.9" stroke="#1c2a18" stroke-width="0.6" />
<line x1="65.8" y1="228.6" x2="303.4" y2="212.1" stroke="#1c2a18" stroke-width="0.6" />
<line x1="128.2" y1="213.0" x2="216.5" y2="262.2" stroke="#1c2a18" stroke-width="0.6" />
<line x1="69.5" y1="231.5" x2="310.2" y2="214.4" stroke="#1c2a18" stroke-width="0.6" />
<line x1="142.7" y1="212.1" x2="234.7" y2="260.5" stroke="#1c2a18" stroke-width="0.6" />
<line x1="73.3" y1="234.5" x2="317.1" y2="216.8" stroke="#1c2a18" stroke-width="0.6" />
<line x1="157.1" y1="211.2" x2="252.5" y2="258.9" stroke="#1c2a18" stroke-width="0.6" />
<line x1="77.3" y1="237.6" x2="324.3" y2="219.3" stroke="#1c2a18" stroke-width="0.6" />
<line x1="171.3" y1="210.3" x2="270.1" y2="257.3" stroke="#1c2a18" stroke-width="0.6" />
<line x1="81.4" y1="240.8" x2="331.7" y2="221.8" stroke="#1c2a18" stroke-width="0.6" />
<line x1="185.3" y1="209.4" x2="287.3" y2="255.7" stroke="#1c2a18" stroke-width="0.6" />
<line x1="85.7" y1="244.1" x2="339.3" y2="224.5" stroke="#1c2a18" stroke-width="0.6" />
<line x1="199.1" y1="208.5" x2="304.3" y2="254.2" stroke="#1c2a18" stroke-width="0.6" />
<line x1="90.1" y1="247.5" x2="347.2" y2="227.2" stroke="#1c2a18" stroke-width="0.6" />
<line x1="212.8" y1="207.6" x2="320.9" y2="252.6" stroke="#1c2a18" stroke-width="0.6" />
<line x1="94.6" y1="251.1" x2="355.3" y2="230.0" stroke="#1c2a18" stroke-width="0.6" />
<line x1="226.2" y1="206.7" x2="337.3" y2="251.1" stroke="#1c2a18" stroke-width="0.6" />
<line x1="99.4" y1="254.8" x2="363.6" y2="232.9" stroke="#1c2a18" stroke-width="0.6" />
<line x1="239.5" y1="205.9" x2="353.4" y2="249.7" stroke="#1c2a18" stroke-width="0.6" />
<line x1="104.3" y1="258.6" x2="372.3" y2="235.8" stroke="#1c2a18" stroke-width="0.6" />
<line x1="252.5" y1="205.0" x2="369.2" y2="248.2" stroke="#1c2a18" stroke-width="0.6" />
<line x1="109.4" y1="262.6" x2="381.2" y2="238.9" stroke="#1c2a18" stroke-width="0.6" />
<line x1="265.5" y1="204.2" x2="384.7" y2="246.8" stroke="#1c2a18" stroke-width="0.6" />
<line x1="114.7" y1="266.7" x2="390.4" y2="242.1" stroke="#1c2a18" stroke-width="0.6" />
<line x1="278.2" y1="203.4" x2="400.0" y2="245.4" stroke="#1c2a18" stroke-width="0.6" />
<line x1="120.2" y1="271.0" x2="400.0" y2="245.4" stroke="#1c2a18" stroke-width="0.6" /></g></g>
<polyline points="120.2,271.0 400.0,245.4 278.2,203.4" fill="none" stroke="#5e6b4a" stroke-width="0.5" />
<polyline points="352.3,249.7 363.7,257.0 372.0,264.5 379.0,272.3 384.6,280.0 388.1,285.2 388.1,301.9 370.3,307.6 369.0,311.0 368.0,314.5" fill="none" stroke="#7a4a08" stroke-width="0.5" />
<polygon points="114.3,222.0 116.0,222.4 116.2,232.0 114.8,242.0 111.3,250.0 106.3,256.0 101.6,258.6 100.3,257.5 104.5,255.6 109.8,248.7 112.9,240.7 113.9,230.0" fill="#2b5cb4" />
<polygon points="115.3,222.2 189.4,218.4 180.5,226.0 171.0,233.5 153.5,242.7 135.0,250.0 116.0,254.7 105.4,256.9 101.6,258.8 106.5,256.0 111.6,250.0 115.0,242.0 116.2,232.0" fill="url(#gWallL)" />
<polyline points="133.2,222.0 132.4,240.0 131.0,251.0" fill="none" stroke="#5a3a1a" stroke-width="0.6" />
<polyline points="139.0,222.0 139.5,230.4 150.0,226.3 159.5,221.2" fill="none" stroke="#5a3a1a" stroke-width="0.6" />
<polyline points="153.7,221.3 150.5,234.0 147.5,245.0" fill="none" stroke="#5a3a1a" stroke-width="0.6" />
<polyline points="170.0,219.6 167.5,226.0 164.7,232.5 158.0,240.5" fill="none" stroke="#5a3a1a" stroke-width="0.6" />
<polyline points="182.6,218.7 172.0,228.0 160.0,236.0 143.0,244.0 124.0,250.5" fill="none" stroke="#5a3a1a" stroke-width="0.6" />
<polyline points="116.0,245.0 128.0,243.0 148.0,236.0 166.0,226.5" fill="none" stroke="#5a3a1a" stroke-width="0.5" />
<polygon points="167.6,175.7 268.0,212.5 115.3,222.3 115.3,221.0 119.2,220.2 123.2,219.4 127.1,218.6 131.0,217.8 135.0,217.0 139.0,216.2 143.2,215.4 147.6,214.6 152.0,213.9 156.3,213.1 160.3,212.3 164.0,211.6 167.3,210.9 170.4,210.2 173.2,209.5 175.8,208.8 178.1,208.1 180.0,207.5 181.5,207.0 182.6,206.5 183.4,206.1 184.0,205.6 184.5,205.1 185.0,204.5 185.6,203.7 186.1,202.9 186.5,202.0 186.8,201.0 187.0,200.0 187.0,199.0 186.8,197.9 186.5,196.8 186.0,195.6 185.4,194.4 184.7,193.2 184.0,192.0 183.2,190.9 182.4,189.8 181.5,188.6 180.4,187.5 179.3,186.3 178.0,185.0 176.5,183.6 174.9,182.1 173.1,180.5 171.2,178.9 169.4,177.3 167.6,175.7" fill="#d4d4d4" />
<polyline points="167.6,175.7 169.7,176.6 171.8,177.6 173.9,178.5 176.0,179.4 178.0,180.4 180.0,181.5 181.9,182.7 183.9,183.9 185.8,185.2 187.6,186.5 189.4,187.8 191.0,189.0 192.6,190.2 194.1,191.4 195.5,192.6 196.8,193.8 198.0,194.9 199.0,196.0 199.9,197.0 200.7,197.9 201.3,198.8 201.8,199.7 202.2,200.6 202.4,201.5 202.5,202.5 202.5,203.5 202.4,204.5 202.0,205.6 201.4,206.6 200.5,207.5 199.3,208.4 197.9,209.3 196.2,210.1 194.2,210.9 191.8,211.7 189.0,212.5 185.9,213.3 182.5,214.1 178.7,214.9 174.5,215.7 169.6,216.4 164.0,217.2 157.4,218.0 150.0,218.7 141.9,219.5 133.5,220.3 125.1,221.0 117.0,221.8" fill="none" stroke="#333" stroke-width="0.7" />
<polyline points="167.6,175.7 268.0,212.5 115.3,222.3" fill="none" stroke="#777" stroke-width="0.5" />
<polygon points="167.6,175.7 167.6,175.7 169.4,177.3 171.2,178.9 173.1,180.5 174.9,182.1 176.5,183.6 178.0,185.0 179.3,186.3 180.4,187.5 181.5,188.6 182.4,189.8 183.2,190.9 184.0,192.0 184.7,193.2 185.4,194.4 186.0,195.6 186.5,196.8 186.8,197.9 187.0,199.0 187.0,200.0 186.8,201.0 186.5,202.0 186.1,202.9 185.6,203.7 185.0,204.5 184.5,205.1 184.0,205.6 183.4,206.1 182.6,206.5 181.5,207.0 180.0,207.5 178.1,208.1 175.8,208.8 173.2,209.5 170.4,210.2 164.2,211.6 164.8,200.0" fill="url(#gSpire)" />
<polyline points="167.6,175.7 169.4,177.3 171.2,178.9 173.1,180.5 174.9,182.1 176.5,183.6 178.0,185.0 179.3,186.3 180.4,187.5 181.5,188.6 182.4,189.8 183.2,190.9 184.0,192.0 184.7,193.2 185.4,194.4 186.0,195.6 186.5,196.8 186.8,197.9 187.0,199.0 187.0,200.0 186.8,201.0 186.5,202.0 186.1,202.9 185.6,203.7 185.0,204.5 184.5,205.1 184.0,205.6 183.4,206.1 182.6,206.5 181.5,207.0 180.0,207.5 178.1,208.1 175.8,208.8 173.2,209.5 170.4,210.2 167.3,210.9 164.0,211.6 160.3,212.3 156.3,213.1 152.0,213.9 147.6,214.6 143.2,215.4 139.0,216.2 135.0,217.0 131.0,217.8 127.1,218.6 123.2,219.4 119.2,220.2 115.3,221.0" fill="none" stroke="#26324a" stroke-width="0.6" />
<polyline points="169.9,178.9 170.8,196.0 168.5,211.4" fill="none" stroke="#141e38" stroke-width="0.45" />
<polyline points="172.2,181.9 173.4,196.0 170.4,210.9" fill="none" stroke="#141e38" stroke-width="0.45" />
<polyline points="174.5,185.3 176.0,196.0 172.3,210.3" fill="none" stroke="#141e38" stroke-width="0.45" />
<polyline points="176.8,189.3 178.6,196.0 174.2,209.8" fill="none" stroke="#141e38" stroke-width="0.45" />
<polyline points="179.1,193.8 181.2,196.0 176.1,209.2" fill="none" stroke="#141e38" stroke-width="0.45" />
<polyline points="181.4,198.7 183.8,196.0 178.0,208.7" fill="none" stroke="#141e38" stroke-width="0.45" />
<polyline points="183.7,204.2 186.4,196.0 179.9,208.2" fill="none" stroke="#141e38" stroke-width="0.45" />
<polygon points="167.4,176.5 167.6,190.0 166.4,211.2 164.2,211.6 165.0,195.0" fill="#3468c4" />
<line x1="44.0" y1="178.0" x2="278.3" y2="166.2" stroke="#4c4c4c" stroke-width="0.65" />
<line x1="278.3" y1="166.2" x2="411.3" y2="201.4" stroke="#4c4c4c" stroke-width="0.65" />
<line x1="44.0" y1="178.0" x2="47.6" y2="279.0" stroke="#4c4c4c" stroke-width="0.65" />
<line x1="411.3" y1="201.4" x2="406.3" y2="319.0" stroke="#4c4c4c" stroke-width="0.65" />
<line x1="47.6" y1="279.0" x2="117.6" y2="353.7" stroke="#4c4c4c" stroke-width="0.65" />
<line x1="117.6" y1="353.7" x2="406.3" y2="319.0" stroke="#4c4c4c" stroke-width="0.65" />
<line x1="411.3" y1="201.4" x2="115.3" y2="221.0" stroke="#747474" stroke-width="0.8" />
<line x1="115.3" y1="221.0" x2="44.0" y2="178.0" stroke="#747474" stroke-width="0.8" />
<line x1="115.3" y1="221.0" x2="117.6" y2="353.7" stroke="#747474" stroke-width="0.8" />
<line x1="47.4" y1="273.6" x2="50.2" y2="273.3" stroke="#555" stroke-width="0.7" />
<line x1="47.2" y1="268.0" x2="50.0" y2="267.7" stroke="#555" stroke-width="0.7" />
<line x1="47.0" y1="262.4" x2="52.6" y2="261.7" stroke="#555" stroke-width="0.7" />
<line x1="46.8" y1="256.8" x2="49.6" y2="256.5" stroke="#555" stroke-width="0.7" />
<line x1="46.6" y1="251.2" x2="49.4" y2="250.9" stroke="#555" stroke-width="0.7" />
<line x1="46.4" y1="245.6" x2="49.2" y2="245.3" stroke="#555" stroke-width="0.7" />
<line x1="46.2" y1="240.0" x2="51.8" y2="239.3" stroke="#555" stroke-width="0.7" />
<line x1="46.0" y1="234.4" x2="48.8" y2="234.0" stroke="#555" stroke-width="0.7" />
<line x1="45.8" y1="228.8" x2="48.6" y2="228.4" stroke="#555" stroke-width="0.7" />
<line x1="45.6" y1="223.2" x2="48.4" y2="222.8" stroke="#555" stroke-width="0.7" />
<line x1="45.4" y1="217.6" x2="51.0" y2="216.9" stroke="#555" stroke-width="0.7" />
<line x1="45.2" y1="212.0" x2="48.0" y2="211.6" stroke="#555" stroke-width="0.7" />
<line x1="45.0" y1="206.4" x2="47.8" y2="206.0" stroke="#555" stroke-width="0.7" />
<line x1="44.8" y1="200.8" x2="47.6" y2="200.4" stroke="#555" stroke-width="0.7" />
<line x1="44.6" y1="195.2" x2="50.2" y2="194.5" stroke="#555" stroke-width="0.7" />
<line x1="44.4" y1="189.5" x2="47.2" y2="189.2" stroke="#555" stroke-width="0.7" />
<line x1="44.2" y1="183.9" x2="47.0" y2="183.6" stroke="#555" stroke-width="0.7" />
<line x1="47.6" y1="279.0" x2="47.8" y2="274.0" stroke="#555" stroke-width="0.7" />
<line x1="56.3" y1="288.3" x2="56.4" y2="285.3" stroke="#555" stroke-width="0.7" />
<line x1="64.6" y1="297.1" x2="64.7" y2="294.1" stroke="#555" stroke-width="0.7" />
<line x1="72.4" y1="305.5" x2="72.5" y2="302.5" stroke="#555" stroke-width="0.7" />
<line x1="79.9" y1="313.4" x2="79.9" y2="310.4" stroke="#555" stroke-width="0.7" />
<line x1="86.9" y1="321.0" x2="87.1" y2="316.0" stroke="#555" stroke-width="0.7" />
<line x1="93.7" y1="328.1" x2="93.7" y2="325.1" stroke="#555" stroke-width="0.7" />
<line x1="100.1" y1="335.0" x2="100.2" y2="332.0" stroke="#555" stroke-width="0.7" />
<line x1="106.2" y1="341.5" x2="106.3" y2="338.5" stroke="#555" stroke-width="0.7" />
<line x1="112.0" y1="347.7" x2="112.1" y2="344.7" stroke="#555" stroke-width="0.7" />
<line x1="117.6" y1="353.7" x2="117.8" y2="348.7" stroke="#555" stroke-width="0.7" />
<line x1="44.0" y1="178.0" x2="44.3" y2="179.1" stroke="#555" stroke-width="0.6" />
<line x1="54.5" y1="177.5" x2="54.7" y2="178.1" stroke="#555" stroke-width="0.6" />
<line x1="65.1" y1="176.9" x2="65.3" y2="177.5" stroke="#555" stroke-width="0.6" />
<line x1="75.9" y1="176.4" x2="76.1" y2="177.0" stroke="#555" stroke-width="0.6" />
<line x1="86.8" y1="175.8" x2="86.9" y2="176.4" stroke="#555" stroke-width="0.6" />
<line x1="97.7" y1="175.3" x2="98.1" y2="176.4" stroke="#555" stroke-width="0.6" />
<line x1="108.8" y1="174.7" x2="109.0" y2="175.3" stroke="#555" stroke-width="0.6" />
<line x1="120.1" y1="174.2" x2="120.3" y2="174.8" stroke="#555" stroke-width="0.6" />
<line x1="131.4" y1="173.6" x2="131.6" y2="174.2" stroke="#555" stroke-width="0.6" />
<line x1="142.9" y1="173.0" x2="143.1" y2="173.6" stroke="#555" stroke-width="0.6" />
<line x1="154.5" y1="172.4" x2="154.8" y2="173.5" stroke="#555" stroke-width="0.6" />
<line x1="166.3" y1="171.8" x2="166.4" y2="172.4" stroke="#555" stroke-width="0.6" />
<line x1="178.1" y1="171.2" x2="178.3" y2="171.8" stroke="#555" stroke-width="0.6" />
<line x1="190.2" y1="170.6" x2="190.3" y2="171.2" stroke="#555" stroke-width="0.6" />
<line x1="202.3" y1="170.0" x2="202.5" y2="170.6" stroke="#555" stroke-width="0.6" />
<line x1="214.6" y1="169.4" x2="214.9" y2="170.5" stroke="#555" stroke-width="0.6" />
<line x1="227.0" y1="168.8" x2="227.2" y2="169.4" stroke="#555" stroke-width="0.6" />
<line x1="239.6" y1="168.1" x2="239.8" y2="168.7" stroke="#555" stroke-width="0.6" />
<line x1="252.4" y1="167.5" x2="252.5" y2="168.1" stroke="#555" stroke-width="0.6" />
<line x1="265.3" y1="166.9" x2="265.4" y2="167.5" stroke="#555" stroke-width="0.6" />
<line x1="278.3" y1="166.2" x2="278.6" y2="167.3" stroke="#555" stroke-width="0.6" />
<text x="9.8" y="174.7" font-size="17" font-weight="bold" font-style="normal" text-anchor="start" >−1.0</text>
<text x="70.0" y="174.0" font-size="17" font-weight="bold" font-style="normal" text-anchor="start" >−0.5</text>
<text x="136.6" y="171.6" font-size="17" font-weight="bold" font-style="normal" text-anchor="start" >0.0</text>
<text x="192.1" y="169.5" font-size="17" font-weight="bold" font-style="normal" text-anchor="start" >0.5</text>
<text x="245.3" y="167.7" font-size="17" font-weight="bold" font-style="normal" text-anchor="start" >1.0</text>
<text x="132.2" y="148.6" font-size="16.5" font-weight="bold" font-style="italic" text-anchor="start" >η</text>
<text x="29.6" y="201.0" font-size="17" font-weight="bold" font-style="normal" text-anchor="start" >2</text>
<text x="29.6" y="223.1" font-size="17" font-weight="bold" font-style="normal" text-anchor="start" >0</text>
<text x="20.2" y="246.2" font-size="17" font-weight="bold" font-style="normal" text-anchor="start" >−2</text>
<text x="20.2" y="267.8" font-size="17" font-weight="bold" font-style="normal" text-anchor="start" >−4</text>
<text x="8.0" y="237.5" font-size="17" font-weight="bold" font-style="normal" text-anchor="start" >q</text>
<text x="36.7" y="300.2" font-size="17" font-weight="bold" font-style="normal" text-anchor="start" >0.0</text>
<text x="65.5" y="331.0" font-size="17" font-weight="bold" font-style="normal" text-anchor="start" >0.5</text>
<text x="104.3" y="372.2" font-size="17" font-weight="bold" font-style="normal" text-anchor="start" >1.0</text>
<text x="73.3" y="352.0" font-size="16.5" font-weight="bold" font-style="italic" text-anchor="start" >ρ</text><rect x="438.4" y="200.4" width="7.2" height="7.2" fill="#f08a00" stroke="#c06000" stroke-width="0.9"/>
<rect x="440" y="202.0" width="3.4" height="3.4" fill="#ffb030" opacity="0.8"/>
<rect x="438.4" y="228.4" width="7.2" height="7.2" fill="#3a8ae8" stroke="#2a5aa8" stroke-width="0.9"/>
<rect x="440" y="230.0" width="3.4" height="3.4" fill="#8cc8ff" opacity="0.8"/>
<rect x="438.4" y="255.4" width="7.2" height="7.2" fill="#8db458" stroke="#6e9440" stroke-width="0.9"/>
<rect x="440" y="257.0" width="3.4" height="3.4" fill="#a6c878" opacity="0.8"/>
<text x="454.8" y="208.0" font-size="17" font-weight="bold" font-style="italic">ω<tspan x="469.8" y="211.4" font-size="12.5" font-weight="normal">ϕ</tspan></text>
<text x="454.8" y="236.3" font-size="17" font-weight="bold" font-style="normal" text-anchor="start" >q</text>
<text x="455.2" y="262.5" font-size="17" font-weight="bold" font-style="normal" text-anchor="start" >Plane 0</text></g>
<g transform="translate(524.4,0.9)"><line x1="278.3" y1="166.2" x2="278.3" y2="259.5" stroke="#5e5e5e" stroke-width="0.7" />
<line x1="47.6" y1="279.0" x2="278.3" y2="259.5" stroke="#5e5e5e" stroke-width="0.7" />
<line x1="278.3" y1="259.5" x2="406.3" y2="319.0" stroke="#5e5e5e" stroke-width="0.7" />
<polygon points="118.5,343.5 196.3,286.8 268.0,331.5 120.3,349.7" fill="#d4d4d4" />
<polygon points="51.5,221.6 54.5,219.8 86.0,249.0 84.2,253.6 76.0,245.6" fill="#d06a12" />
<polygon points="53.0,219.4 58.0,219.0 85.0,241.5 104.0,256.0 91.5,260.3 93.0,264.0 98.5,275.1 104.1,288.2 110.7,301.3 114.6,312.0 117.0,321.0 118.6,335.0 116.2,336.0 113.8,319.3 111.3,312.0 107.4,301.3 101.5,288.2 96.9,275.1 92.2,265.0 90.3,260.6 85.6,254.4 79.1,245.6 72.2,238.4 60.5,227.4" fill="url(#gBlueR)" />
<polygon points="116.6,335.3 133.3,336.3 139.0,340.0 120.3,345.2 117.2,343.0" fill="#97e4f4" stroke="#3a5a66" stroke-width="0.4"/>
<polygon points="101.5,256.4 120.2,271.2 182.4,266.6 186.8,277.3 198.3,292.6 207.8,306.0 211.6,317.4 211.6,317.4 211.1,319.0 210.7,320.6 210.3,322.1 209.8,323.7 209.0,325.2 207.8,326.7 206.2,328.1 204.4,329.5 202.3,330.8 199.9,332.0 197.3,333.3 194.4,334.4 191.1,335.5 187.3,336.6 183.3,337.6 179.2,338.5 175.2,339.3 171.5,340.0 168.0,340.6 164.6,341.1 161.4,341.5 158.2,341.8 155.2,342.0 152.4,342.0 149.7,341.8 147.2,341.4 144.9,340.8 142.7,340.2 140.7,339.5 139.0,339.0 137.7,338.5 136.9,338.0 136.2,337.5 135.6,337.1 134.7,336.7 133.3,336.3 131.4,336.0 129.1,335.8 126.5,335.6 123.8,335.4 121.2,335.2 118.6,335.0 117.0,321.0 114.6,312.0 110.7,301.3 104.1,288.2 98.5,275.1 93.0,264.0 91.5,260.3" fill="url(#gSurfR)" />
<polygon points="101.5,256.4 120.2,271.2 182.4,266.6 186.8,277.3 198.3,292.6 207.8,306.0 211.6,317.4 211.6,317.4 211.1,319.0 210.7,320.6 210.3,322.1 209.8,323.7 209.0,325.2 207.8,326.7 206.2,328.1 204.4,329.5 202.3,330.8 199.9,332.0 197.3,333.3 194.4,334.4 191.1,335.5 187.3,336.6 183.3,337.6 179.2,338.5 175.2,339.3 171.5,340.0 168.0,340.6 164.6,341.1 161.4,341.5 158.2,341.8 155.2,342.0 152.4,342.0 149.7,341.8 147.2,341.4 144.9,340.8 142.7,340.2 140.7,339.5 139.0,339.0 137.7,338.5 136.9,338.0 136.2,337.5 135.6,337.1 134.7,336.7 133.3,336.3 131.4,336.0 129.1,335.8 126.5,335.6 123.8,335.4 121.2,335.2 118.6,335.0 117.0,321.0 114.6,312.0 110.7,301.3 104.1,288.2 98.5,275.1 93.0,264.0 91.5,260.3" fill="url(#gSurfR2)" />
<polygon points="52.0,217.9 169.5,211.2 169.3,216.5 166.5,219.0 149.0,235.4 132.2,245.0 119.4,250.4 101.5,256.4" fill="#568e96" />
<polygon points="169.5,211.2 278.2,203.4 400.8,245.3 182.4,266.6 179.5,263.7 172.9,251.7 170.2,238.4 168.9,225.0" fill="#b4c790" />
<polygon points="166.5,219.0 169.3,214.0 168.9,225.0 170.2,238.4 172.9,251.7 179.5,263.7 182.4,266.6 120.2,271.2 101.5,256.4 119.4,250.4 132.2,245.0 149.0,235.4" fill="url(#gOliveR)" />
<clipPath id="Rsurf"><polygon points="101.5,256.4 120.2,271.2 182.4,266.6 186.8,277.3 198.3,292.6 207.8,306.0 211.6,317.4 211.6,317.4 211.1,319.0 210.7,320.6 210.3,322.1 209.8,323.7 209.0,325.2 207.8,326.7 206.2,328.1 204.4,329.5 202.3,330.8 199.9,332.0 197.3,333.3 194.4,334.4 191.1,335.5 187.3,336.6 183.3,337.6 179.2,338.5 175.2,339.3 171.5,340.0 168.0,340.6 164.6,341.1 161.4,341.5 158.2,341.8 155.2,342.0 152.4,342.0 149.7,341.8 147.2,341.4 144.9,340.8 142.7,340.2 140.7,339.5 139.0,339.0 137.7,338.5 136.9,338.0 136.2,337.5 135.6,337.1 134.7,336.7 133.3,336.3 131.4,336.0 129.1,335.8 126.5,335.6 123.8,335.4 121.2,335.2 118.6,335.0 117.0,321.0 114.6,312.0 110.7,301.3 104.1,288.2 98.5,275.1 93.0,264.0 91.5,260.3"/><polygon points="166.5,219.0 169.3,214.0 168.9,225.0 170.2,238.4 172.9,251.7 179.5,263.7 182.4,266.6 120.2,271.2 101.5,256.4 119.4,250.4 132.2,245.0 149.0,235.4"/></clipPath>
<clipPath id="Rplane"><polygon points="52.0,217.9 169.5,211.2 169.3,216.5 166.5,219.0 149.0,235.4 132.2,245.0 119.4,250.4 101.5,256.4"/><polygon points="166.5,219.0 169.3,214.0 168.9,225.0 170.2,238.4 172.9,251.7 179.5,263.7 182.4,266.6 120.2,271.2 101.5,256.4 119.4,250.4 132.2,245.0 149.0,235.4"/><polygon points="169.5,211.2 278.2,203.4 400.8,245.3 182.4,266.6 179.5,263.7 172.9,251.7 170.2,238.4 168.9,225.0"/></clipPath>
<clipPath id="RsurfD"><polygon points="101.5,256.4 120.2,271.2 182.4,266.6 186.8,277.3 198.3,292.6 207.8,306.0 211.6,317.4 211.6,317.4 211.1,319.0 210.7,320.6 210.3,322.1 209.8,323.7 209.0,325.2 207.8,326.7 206.2,328.1 204.4,329.5 202.3,330.8 199.9,332.0 197.3,333.3 194.4,334.4 191.1,335.5 187.3,336.6 183.3,337.6 179.2,338.5 175.2,339.3 171.5,340.0 168.0,340.6 164.6,341.1 161.4,341.5 158.2,341.8 155.2,342.0 152.4,342.0 149.7,341.8 147.2,341.4 144.9,340.8 142.7,340.2 140.7,339.5 139.0,339.0 137.7,338.5 136.9,338.0 136.2,337.5 135.6,337.1 134.7,336.7 133.3,336.3 131.4,336.0 129.1,335.8 126.5,335.6 123.8,335.4 121.2,335.2 118.6,335.0 117.0,321.0 114.6,312.0 110.7,301.3 104.1,288.2 98.5,275.1 93.0,264.0 91.5,260.3"/></clipPath>
<clipPath id="RsurfU"><polygon points="166.5,219.0 169.3,214.0 168.9,225.0 170.2,238.4 172.9,251.7 179.5,263.7 182.4,266.6 120.2,271.2 101.5,256.4 119.4,250.4 132.2,245.0 149.0,235.4"/></clipPath>
<g clip-path="url(#RsurfD)"><polyline points="88.0,202.3 91.0,202.9 94.0,203.5 97.0,204.1 100.0,204.7 103.0,205.4 106.0,206.0 109.0,206.7 112.0,207.3 115.0,208.0 118.0,208.7 121.0,209.4 124.0,210.2 127.0,210.9 130.0,211.7 133.0,212.5 136.0,213.2 139.0,214.0 142.0,214.9 145.0,215.7 148.0,216.5 151.0,217.4 154.0,218.3 157.0,219.2 160.0,220.1 163.0,221.0 166.0,221.9 169.0,222.9 172.0,223.8 175.0,224.8 178.0,225.8 181.0,226.8 184.0,227.8 187.0,228.9 190.0,229.9 193.0,231.0 196.0,232.1 199.0,233.2 202.0,234.3 205.0,235.4 208.0,236.5 211.0,237.7 214.0,238.8 217.0,240.0 220.0,241.2 223.0,242.4" fill="none" stroke="#46320f" stroke-width="0.55" />
<polyline points="88.0,214.9 91.0,215.5 94.0,216.1 97.0,216.7 100.0,217.3 103.0,218.0 106.0,218.6 109.0,219.3 112.0,219.9 115.0,220.6 118.0,221.3 121.0,222.0 124.0,222.8 127.0,223.5 130.0,224.3 133.0,225.1 136.0,225.8 139.0,226.6 142.0,227.5 145.0,228.3 148.0,229.1 151.0,230.0 154.0,230.9 157.0,231.8 160.0,232.7 163.0,233.6 166.0,234.5 169.0,235.5 172.0,236.4 175.0,237.4 178.0,238.4 181.0,239.4 184.0,240.4 187.0,241.5 190.0,242.5 193.0,243.6 196.0,244.7 199.0,245.8 202.0,246.9 205.0,248.0 208.0,249.1 211.0,250.3 214.0,251.4 217.0,252.6 220.0,253.8 223.0,255.0" fill="none" stroke="#46320f" stroke-width="0.55" />
<polyline points="88.0,227.5 91.0,228.1 94.0,228.7 97.0,229.3 100.0,229.9 103.0,230.6 106.0,231.2 109.0,231.9 112.0,232.5 115.0,233.2 118.0,233.9 121.0,234.6 124.0,235.4 127.0,236.1 130.0,236.9 133.0,237.7 136.0,238.4 139.0,239.2 142.0,240.1 145.0,240.9 148.0,241.7 151.0,242.6 154.0,243.5 157.0,244.4 160.0,245.3 163.0,246.2 166.0,247.1 169.0,248.1 172.0,249.0 175.0,250.0 178.0,251.0 181.0,252.0 184.0,253.0 187.0,254.1 190.0,255.1 193.0,256.2 196.0,257.3 199.0,258.4 202.0,259.5 205.0,260.6 208.0,261.7 211.0,262.9 214.0,264.0 217.0,265.2 220.0,266.4 223.0,267.6" fill="none" stroke="#46320f" stroke-width="0.55" />
<polyline points="88.0,240.1 91.0,240.7 94.0,241.3 97.0,241.9 100.0,242.5 103.0,243.2 106.0,243.8 109.0,244.5 112.0,245.1 115.0,245.8 118.0,246.5 121.0,247.2 124.0,248.0 127.0,248.7 130.0,249.5 133.0,250.3 136.0,251.0 139.0,251.8 142.0,252.7 145.0,253.5 148.0,254.3 151.0,255.2 154.0,256.1 157.0,257.0 160.0,257.9 163.0,258.8 166.0,259.7 169.0,260.7 172.0,261.6 175.0,262.6 178.0,263.6 181.0,264.6 184.0,265.6 187.0,266.7 190.0,267.7 193.0,268.8 196.0,269.9 199.0,271.0 202.0,272.1 205.0,273.2 208.0,274.3 211.0,275.5 214.0,276.6 217.0,277.8 220.0,279.0 223.0,280.2" fill="none" stroke="#46320f" stroke-width="0.55" />
<polyline points="88.0,252.7 91.0,253.3 94.0,253.9 97.0,254.5 100.0,255.1 103.0,255.8 106.0,256.4 109.0,257.1 112.0,257.7 115.0,258.4 118.0,259.1 121.0,259.8 124.0,260.6 127.0,261.3 130.0,262.1 133.0,262.9 136.0,263.6 139.0,264.4 142.0,265.3 145.0,266.1 148.0,266.9 151.0,267.8 154.0,268.7 157.0,269.6 160.0,270.5 163.0,271.4 166.0,272.3 169.0,273.3 172.0,274.2 175.0,275.2 178.0,276.2 181.0,277.2 184.0,278.2 187.0,279.3 190.0,280.3 193.0,281.4 196.0,282.5 199.0,283.6 202.0,284.7 205.0,285.8 208.0,286.9 211.0,288.1 214.0,289.2 217.0,290.4 220.0,291.6 223.0,292.8" fill="none" stroke="#46320f" stroke-width="0.55" />
<polyline points="88.0,265.3 91.0,265.9 94.0,266.5 97.0,267.1 100.0,267.7 103.0,268.4 106.0,269.0 109.0,269.7 112.0,270.3 115.0,271.0 118.0,271.7 121.0,272.4 124.0,273.2 127.0,273.9 130.0,274.7 133.0,275.5 136.0,276.2 139.0,277.0 142.0,277.9 145.0,278.7 148.0,279.5 151.0,280.4 154.0,281.3 157.0,282.2 160.0,283.1 163.0,284.0 166.0,284.9 169.0,285.9 172.0,286.8 175.0,287.8 178.0,288.8 181.0,289.8 184.0,290.8 187.0,291.9 190.0,292.9 193.0,294.0 196.0,295.1 199.0,296.2 202.0,297.3 205.0,298.4 208.0,299.5 211.0,300.7 214.0,301.8 217.0,303.0 220.0,304.2 223.0,305.4" fill="none" stroke="#46320f" stroke-width="0.55" />
<polyline points="88.0,277.9 91.0,278.5 94.0,279.1 97.0,279.7 100.0,280.3 103.0,281.0 106.0,281.6 109.0,282.3 112.0,282.9 115.0,283.6 118.0,284.3 121.0,285.0 124.0,285.8 127.0,286.5 130.0,287.3 133.0,288.1 136.0,288.8 139.0,289.6 142.0,290.5 145.0,291.3 148.0,292.1 151.0,293.0 154.0,293.9 157.0,294.8 160.0,295.7 163.0,296.6 166.0,297.5 169.0,298.5 172.0,299.4 175.0,300.4 178.0,301.4 181.0,302.4 184.0,303.4 187.0,304.5 190.0,305.5 193.0,306.6 196.0,307.7 199.0,308.8 202.0,309.9 205.0,311.0 208.0,312.1 211.0,313.3 214.0,314.4 217.0,315.6 220.0,316.8 223.0,318.0" fill="none" stroke="#46320f" stroke-width="0.55" />
<polyline points="88.0,290.5 91.0,291.1 94.0,291.7 97.0,292.3 100.0,292.9 103.0,293.6 106.0,294.2 109.0,294.9 112.0,295.5 115.0,296.2 118.0,296.9 121.0,297.6 124.0,298.4 127.0,299.1 130.0,299.9 133.0,300.7 136.0,301.4 139.0,302.2 142.0,303.1 145.0,303.9 148.0,304.7 151.0,305.6 154.0,306.5 157.0,307.4 160.0,308.3 163.0,309.2 166.0,310.1 169.0,311.1 172.0,312.0 175.0,313.0 178.0,314.0 181.0,315.0 184.0,316.0 187.0,317.1 190.0,318.1 193.0,319.2 196.0,320.3 199.0,321.4 202.0,322.5 205.0,323.6 208.0,324.7 211.0,325.9 214.0,327.0 217.0,328.2 220.0,329.4 223.0,330.6" fill="none" stroke="#46320f" stroke-width="0.55" />
<polyline points="88.0,303.1 91.0,303.7 94.0,304.3 97.0,304.9 100.0,305.5 103.0,306.2 106.0,306.8 109.0,307.5 112.0,308.1 115.0,308.8 118.0,309.5 121.0,310.2 124.0,311.0 127.0,311.7 130.0,312.5 133.0,313.3 136.0,314.0 139.0,314.8 142.0,315.7 145.0,316.5 148.0,317.3 151.0,318.2 154.0,319.1 157.0,320.0 160.0,320.9 163.0,321.8 166.0,322.7 169.0,323.7 172.0,324.6 175.0,325.6 178.0,326.6 181.0,327.6 184.0,328.6 187.0,329.7 190.0,330.7 193.0,331.8 196.0,332.9 199.0,334.0 202.0,335.1 205.0,336.2 208.0,337.3 211.0,338.5 214.0,339.6 217.0,340.8 220.0,342.0 223.0,343.2" fill="none" stroke="#46320f" stroke-width="0.55" />
<polyline points="88.0,315.7 91.0,316.3 94.0,316.9 97.0,317.5 100.0,318.1 103.0,318.8 106.0,319.4 109.0,320.1 112.0,320.7 115.0,321.4 118.0,322.1 121.0,322.8 124.0,323.6 127.0,324.3 130.0,325.1 133.0,325.9 136.0,326.6 139.0,327.4 142.0,328.3 145.0,329.1 148.0,329.9 151.0,330.8 154.0,331.7 157.0,332.6 160.0,333.5 163.0,334.4 166.0,335.3 169.0,336.3 172.0,337.2 175.0,338.2 178.0,339.2 181.0,340.2 184.0,341.2 187.0,342.3 190.0,343.3 193.0,344.4 196.0,345.5 199.0,346.6 202.0,347.7 205.0,348.8 208.0,349.9 211.0,351.1 214.0,352.2 217.0,353.4 220.0,354.6 223.0,355.8" fill="none" stroke="#46320f" stroke-width="0.55" />
<polyline points="88.0,328.3 91.0,328.9 94.0,329.5 97.0,330.1 100.0,330.7 103.0,331.4 106.0,332.0 109.0,332.7 112.0,333.3 115.0,334.0 118.0,334.7 121.0,335.4 124.0,336.2 127.0,336.9 130.0,337.7 133.0,338.5 136.0,339.2 139.0,340.0 142.0,340.9 145.0,341.7 148.0,342.5 151.0,343.4 154.0,344.3 157.0,345.2 160.0,346.1 163.0,347.0 166.0,347.9 169.0,348.9 172.0,349.8 175.0,350.8 178.0,351.8 181.0,352.8 184.0,353.8 187.0,354.9 190.0,355.9 193.0,357.0 196.0,358.1 199.0,359.2 202.0,360.3 205.0,361.4 208.0,362.5 211.0,363.7 214.0,364.8 217.0,366.0 220.0,367.2 223.0,368.4" fill="none" stroke="#46320f" stroke-width="0.55" />
<polyline points="88.0,340.9 91.0,341.5 94.0,342.1 97.0,342.7 100.0,343.3 103.0,344.0 106.0,344.6 109.0,345.3 112.0,345.9 115.0,346.6 118.0,347.3 121.0,348.0 124.0,348.8 127.0,349.5 130.0,350.3 133.0,351.1 136.0,351.8 139.0,352.6 142.0,353.5 145.0,354.3 148.0,355.1 151.0,356.0 154.0,356.9 157.0,357.8 160.0,358.7 163.0,359.6 166.0,360.5 169.0,361.5 172.0,362.4 175.0,363.4 178.0,364.4 181.0,365.4 184.0,366.4 187.0,367.5 190.0,368.5 193.0,369.6 196.0,370.7 199.0,371.8 202.0,372.9 205.0,374.0 208.0,375.1 211.0,376.3 214.0,377.4 217.0,378.6 220.0,379.8 223.0,381.0" fill="none" stroke="#46320f" stroke-width="0.55" />
<polyline points="88.0,353.5 91.0,354.1 94.0,354.7 97.0,355.3 100.0,355.9 103.0,356.6 106.0,357.2 109.0,357.9 112.0,358.5 115.0,359.2 118.0,359.9 121.0,360.6 124.0,361.4 127.0,362.1 130.0,362.9 133.0,363.7 136.0,364.4 139.0,365.2 142.0,366.1 145.0,366.9 148.0,367.7 151.0,368.6 154.0,369.5 157.0,370.4 160.0,371.3 163.0,372.2 166.0,373.1 169.0,374.1 172.0,375.0 175.0,376.0 178.0,377.0 181.0,378.0 184.0,379.0 187.0,380.1 190.0,381.1 193.0,382.2 196.0,383.3 199.0,384.4 202.0,385.5 205.0,386.6 208.0,387.7 211.0,388.9 214.0,390.0 217.0,391.2 220.0,392.4 223.0,393.6" fill="none" stroke="#46320f" stroke-width="0.55" />
<polyline points="132.7,214.5 131.9,217.5 131.1,220.5 130.4,223.5 129.7,226.5 128.9,229.5 128.2,232.5 127.5,235.5 126.8,238.5 125.9,241.5 125.0,244.5 124.0,247.5 122.9,250.5 121.5,253.5 120.0,256.5 118.3,259.5 116.7,262.5 115.2,265.5 114.0,268.5 113.1,271.5 112.3,274.5 111.7,277.5 111.2,280.5 111.0,283.5 110.9,286.5 111.0,289.5 111.2,292.5 111.6,295.5 112.2,298.5 112.8,301.5 113.6,304.5 114.4,307.5 115.4,310.5 116.5,313.5 117.7,316.5 119.0,319.5 120.4,322.5 121.8,325.5 123.4,328.5 124.9,331.5 126.5,334.5 128.2,337.5 130.0,340.5 131.8,343.5 133.6,346.5 135.6,349.5" fill="none" stroke="#46320f" stroke-width="0.55" />
<polyline points="159.4,214.5 157.5,217.5 155.7,220.5 154.0,223.5 152.4,226.5 150.8,229.5 149.2,232.5 147.6,235.5 146.1,238.5 144.5,241.5 142.9,244.5 141.1,247.5 139.3,250.5 137.3,253.5 135.2,256.5 132.9,259.5 130.7,262.5 128.7,265.5 127.0,268.5 125.5,271.5 124.2,274.5 123.2,277.5 122.3,280.5 121.6,283.5 121.1,286.5 120.8,289.5 120.6,292.5 120.7,295.5 120.8,298.5 121.2,301.5 121.6,304.5 122.1,307.5 122.8,310.5 123.6,313.5 124.5,316.5 125.5,319.5 126.7,322.5 127.8,325.5 129.1,328.5 130.4,331.5 131.9,334.5 133.3,337.5 134.9,340.5 136.5,343.5 138.2,346.5 139.9,349.5" fill="none" stroke="#46320f" stroke-width="0.55" />
<polyline points="186.0,214.5 183.1,217.5 180.3,220.5 177.7,223.5 175.1,226.5 172.6,229.5 170.1,232.5 167.8,235.5 165.4,238.5 163.1,241.5 160.7,244.5 158.3,247.5 155.8,250.5 153.2,253.5 150.4,256.5 147.5,259.5 144.7,262.5 142.2,265.5 139.9,268.5 137.9,271.5 136.2,274.5 134.6,277.5 133.3,280.5 132.2,283.5 131.3,286.5 130.6,289.5 130.0,292.5 129.7,295.5 129.5,298.5 129.5,301.5 129.6,304.5 129.8,307.5 130.2,310.5 130.7,313.5 131.3,316.5 132.1,319.5 132.9,322.5 133.8,325.5 134.9,328.5 136.0,331.5 137.2,334.5 138.4,337.5 139.8,340.5 141.2,343.5 142.7,346.5 144.2,349.5" fill="none" stroke="#46320f" stroke-width="0.55" />
<polyline points="222.1,214.5 217.7,217.5 213.6,220.5 209.6,223.5 205.8,226.5 202.1,229.5 198.5,232.5 195.0,235.5 191.6,238.5 188.2,241.5 184.9,244.5 181.5,247.5 178.1,250.5 174.6,253.5 171.0,256.5 167.3,259.5 163.7,262.5 160.4,265.5 157.5,268.5 154.8,271.5 152.3,274.5 150.2,277.5 148.2,280.5 146.5,283.5 145.1,286.5 143.8,289.5 142.7,292.5 141.9,295.5 141.3,298.5 140.7,301.5 140.4,304.5 140.2,307.5 140.1,310.5 140.2,313.5 140.5,316.5 140.9,319.5 141.4,322.5 142.0,325.5 142.7,328.5 143.5,331.5 144.3,334.5 145.3,337.5 146.4,340.5 147.5,343.5 148.8,346.5 150.1,349.5" fill="none" stroke="#46320f" stroke-width="0.55" />
<polyline points="262.8,214.5 256.9,217.5 251.2,220.5 245.8,223.5 240.5,226.5 235.4,229.5 230.5,232.5 225.8,235.5 221.2,238.5 216.6,241.5 212.1,244.5 207.7,247.5 203.3,250.5 198.8,253.5 194.2,256.5 189.6,259.5 185.2,262.5 181.1,265.5 177.3,268.5 173.8,271.5 170.6,274.5 167.7,277.5 165.1,280.5 162.7,283.5 160.6,286.5 158.8,289.5 157.1,292.5 155.7,295.5 154.5,298.5 153.5,301.5 152.6,304.5 151.9,307.5 151.4,310.5 151.1,313.5 150.9,316.5 150.8,319.5 150.9,322.5 151.2,325.5 151.5,328.5 151.9,331.5 152.5,334.5 153.1,337.5 153.9,340.5 154.7,343.5 155.7,346.5 156.7,349.5" fill="none" stroke="#46320f" stroke-width="0.55" />
<polyline points="306.7,214.5 299.1,217.5 291.7,220.5 284.7,223.5 277.9,226.5 271.3,229.5 265.0,232.5 258.9,235.5 253.0,238.5 247.2,241.5 241.5,244.5 236.0,247.5 230.4,250.5 224.8,253.5 219.2,256.5 213.7,259.5 208.3,262.5 203.3,265.5 198.6,268.5 194.3,271.5 190.3,274.5 186.6,277.5 183.3,280.5 180.2,283.5 177.4,286.5 174.9,289.5 172.6,292.5 170.6,295.5 168.8,298.5 167.2,301.5 165.8,304.5 164.6,307.5 163.5,310.5 162.7,313.5 162.0,316.5 161.6,319.5 161.2,322.5 161.0,325.5 161.0,328.5 161.0,331.5 161.2,334.5 161.5,337.5 161.9,340.5 162.4,343.5 163.1,346.5 163.8,349.5" fill="none" stroke="#46320f" stroke-width="0.55" />
<polyline points="350.6,214.5 341.2,217.5 332.2,220.5 323.6,223.5 315.3,226.5 307.3,229.5 299.5,232.5 292.1,235.5 284.9,238.5 277.8,241.5 270.9,244.5 264.2,247.5 257.5,250.5 250.9,253.5 244.3,256.5 237.7,259.5 231.4,262.5 225.5,265.5 219.9,268.5 214.8,271.5 210.0,274.5 205.6,277.5 201.4,280.5 197.7,283.5 194.2,286.5 191.0,289.5 188.1,292.5 185.4,295.5 183.1,298.5 180.9,301.5 178.9,304.5 177.2,307.5 175.7,310.5 174.3,313.5 173.2,316.5 172.3,319.5 171.5,322.5 170.9,325.5 170.5,328.5 170.1,331.5 170.0,334.5 169.9,337.5 170.0,340.5 170.2,343.5 170.5,346.5 171.0,349.5" fill="none" stroke="#46320f" stroke-width="0.55" />
<polyline points="394.5,214.5 383.4,217.5 372.8,220.5 362.5,223.5 352.7,226.5 343.2,229.5 334.0,232.5 325.2,235.5 316.7,238.5 308.4,241.5 300.3,244.5 292.4,247.5 284.7,250.5 277.0,253.5 269.3,256.5 261.8,259.5 254.5,262.5 247.7,265.5 241.3,268.5 235.3,271.5 229.7,274.5 224.5,277.5 219.6,280.5 215.1,283.5 210.9,286.5 207.1,289.5 203.5,292.5 200.3,295.5 197.4,298.5 194.6,301.5 192.1,304.5 189.8,307.5 187.8,310.5 186.0,313.5 184.4,316.5 183.0,319.5 181.8,322.5 180.8,325.5 180.0,328.5 179.3,331.5 178.7,334.5 178.3,337.5 178.0,340.5 177.9,343.5 177.9,346.5 178.1,349.5" fill="none" stroke="#46320f" stroke-width="0.55" />
<polyline points="438.4,214.5 425.6,217.5 413.3,220.5 401.4,223.5 390.1,226.5 379.1,229.5 368.6,232.5 358.4,235.5 348.6,238.5 339.0,241.5 329.7,244.5 320.7,247.5 311.8,250.5 303.0,253.5 294.4,256.5 285.8,259.5 277.6,262.5 269.9,265.5 262.6,268.5 255.8,271.5 249.4,274.5 243.4,277.5 237.8,280.5 232.6,283.5 227.7,286.5 223.2,289.5 219.0,292.5 215.2,295.5 211.6,298.5 208.4,301.5 205.3,304.5 202.5,307.5 199.9,310.5 197.6,313.5 195.6,316.5 193.8,319.5 192.1,322.5 190.7,325.5 189.4,328.5 188.4,331.5 187.4,334.5 186.7,337.5 186.1,340.5 185.7,343.5 185.4,346.5 185.2,349.5" fill="none" stroke="#46320f" stroke-width="0.55" />
<polyline points="482.3,214.5 467.7,217.5 453.8,220.5 440.4,223.5 427.4,226.5 415.0,229.5 403.1,232.5 391.6,235.5 380.4,238.5 369.6,241.5 359.1,244.5 348.9,247.5 338.9,250.5 329.1,253.5 319.4,256.5 309.9,259.5 300.7,262.5 292.1,265.5 283.9,268.5 276.2,271.5 269.0,274.5 262.3,277.5 255.9,280.5 250.0,283.5 244.5,286.5 239.3,289.5 234.5,292.5 230.0,295.5 225.9,298.5 222.1,301.5 218.4,304.5 215.1,307.5 212.1,310.5 209.3,313.5 206.8,316.5 204.5,319.5 202.4,322.5 200.6,325.5 198.9,328.5 197.5,331.5 196.2,334.5 195.1,337.5 194.2,340.5 193.4,343.5 192.8,346.5 192.3,349.5" fill="none" stroke="#46320f" stroke-width="0.55" />
<polyline points="526.2,214.5 509.9,217.5 494.3,220.5 479.3,223.5 464.8,226.5 450.9,229.5 437.6,232.5 424.7,235.5 412.3,238.5 400.2,241.5 388.5,244.5 377.1,247.5 366.0,250.5 355.2,253.5 344.4,256.5 333.9,259.5 323.8,262.5 314.3,265.5 305.2,268.5 296.7,271.5 288.7,274.5 281.2,277.5 274.1,280.5 267.5,283.5 261.2,286.5 255.4,289.5 250.0,292.5 244.9,295.5 240.2,298.5 235.8,301.5 231.6,304.5 227.7,307.5 224.2,310.5 220.9,313.5 217.9,316.5 215.2,319.5 212.7,322.5 210.5,325.5 208.4,328.5 206.6,331.5 204.9,334.5 203.5,337.5 202.2,340.5 201.1,343.5 200.2,346.5 199.5,349.5" fill="none" stroke="#46320f" stroke-width="0.55" /></g>
<g clip-path="url(#RsurfU)" opacity="0.8"><polyline points="88.0,202.3 91.0,202.9 94.0,203.5 97.0,204.1 100.0,204.7 103.0,205.4 106.0,206.0 109.0,206.7 112.0,207.3 115.0,208.0 118.0,208.7 121.0,209.4 124.0,210.2 127.0,210.9 130.0,211.7 133.0,212.5 136.0,213.2 139.0,214.0 142.0,214.9 145.0,215.7 148.0,216.5 151.0,217.4 154.0,218.3 157.0,219.2 160.0,220.1 163.0,221.0 166.0,221.9 169.0,222.9 172.0,223.8 175.0,224.8 178.0,225.8 181.0,226.8 184.0,227.8 187.0,228.9 190.0,229.9 193.0,231.0 196.0,232.1 199.0,233.2 202.0,234.3 205.0,235.4 208.0,236.5 211.0,237.7 214.0,238.8 217.0,240.0 220.0,241.2 223.0,242.4" fill="none" stroke="#4c4a18" stroke-width="0.6" />
<polyline points="88.0,214.9 91.0,215.5 94.0,216.1 97.0,216.7 100.0,217.3 103.0,218.0 106.0,218.6 109.0,219.3 112.0,219.9 115.0,220.6 118.0,221.3 121.0,222.0 124.0,222.8 127.0,223.5 130.0,224.3 133.0,225.1 136.0,225.8 139.0,226.6 142.0,227.5 145.0,228.3 148.0,229.1 151.0,230.0 154.0,230.9 157.0,231.8 160.0,232.7 163.0,233.6 166.0,234.5 169.0,235.5 172.0,236.4 175.0,237.4 178.0,238.4 181.0,239.4 184.0,240.4 187.0,241.5 190.0,242.5 193.0,243.6 196.0,244.7 199.0,245.8 202.0,246.9 205.0,248.0 208.0,249.1 211.0,250.3 214.0,251.4 217.0,252.6 220.0,253.8 223.0,255.0" fill="none" stroke="#4c4a18" stroke-width="0.6" />
<polyline points="88.0,227.5 91.0,228.1 94.0,228.7 97.0,229.3 100.0,229.9 103.0,230.6 106.0,231.2 109.0,231.9 112.0,232.5 115.0,233.2 118.0,233.9 121.0,234.6 124.0,235.4 127.0,236.1 130.0,236.9 133.0,237.7 136.0,238.4 139.0,239.2 142.0,240.1 145.0,240.9 148.0,241.7 151.0,242.6 154.0,243.5 157.0,244.4 160.0,245.3 163.0,246.2 166.0,247.1 169.0,248.1 172.0,249.0 175.0,250.0 178.0,251.0 181.0,252.0 184.0,253.0 187.0,254.1 190.0,255.1 193.0,256.2 196.0,257.3 199.0,258.4 202.0,259.5 205.0,260.6 208.0,261.7 211.0,262.9 214.0,264.0 217.0,265.2 220.0,266.4 223.0,267.6" fill="none" stroke="#4c4a18" stroke-width="0.6" />
<polyline points="88.0,240.1 91.0,240.7 94.0,241.3 97.0,241.9 100.0,242.5 103.0,243.2 106.0,243.8 109.0,244.5 112.0,245.1 115.0,245.8 118.0,246.5 121.0,247.2 124.0,248.0 127.0,248.7 130.0,249.5 133.0,250.3 136.0,251.0 139.0,251.8 142.0,252.7 145.0,253.5 148.0,254.3 151.0,255.2 154.0,256.1 157.0,257.0 160.0,257.9 163.0,258.8 166.0,259.7 169.0,260.7 172.0,261.6 175.0,262.6 178.0,263.6 181.0,264.6 184.0,265.6 187.0,266.7 190.0,267.7 193.0,268.8 196.0,269.9 199.0,271.0 202.0,272.1 205.0,273.2 208.0,274.3 211.0,275.5 214.0,276.6 217.0,277.8 220.0,279.0 223.0,280.2" fill="none" stroke="#4c4a18" stroke-width="0.6" />
<polyline points="88.0,252.7 91.0,253.3 94.0,253.9 97.0,254.5 100.0,255.1 103.0,255.8 106.0,256.4 109.0,257.1 112.0,257.7 115.0,258.4 118.0,259.1 121.0,259.8 124.0,260.6 127.0,261.3 130.0,262.1 133.0,262.9 136.0,263.6 139.0,264.4 142.0,265.3 145.0,266.1 148.0,266.9 151.0,267.8 154.0,268.7 157.0,269.6 160.0,270.5 163.0,271.4 166.0,272.3 169.0,273.3 172.0,274.2 175.0,275.2 178.0,276.2 181.0,277.2 184.0,278.2 187.0,279.3 190.0,280.3 193.0,281.4 196.0,282.5 199.0,283.6 202.0,284.7 205.0,285.8 208.0,286.9 211.0,288.1 214.0,289.2 217.0,290.4 220.0,291.6 223.0,292.8" fill="none" stroke="#4c4a18" stroke-width="0.6" />
<polyline points="88.0,265.3 91.0,265.9 94.0,266.5 97.0,267.1 100.0,267.7 103.0,268.4 106.0,269.0 109.0,269.7 112.0,270.3 115.0,271.0 118.0,271.7 121.0,272.4 124.0,273.2 127.0,273.9 130.0,274.7 133.0,275.5 136.0,276.2 139.0,277.0 142.0,277.9 145.0,278.7 148.0,279.5 151.0,280.4 154.0,281.3 157.0,282.2 160.0,283.1 163.0,284.0 166.0,284.9 169.0,285.9 172.0,286.8 175.0,287.8 178.0,288.8 181.0,289.8 184.0,290.8 187.0,291.9 190.0,292.9 193.0,294.0 196.0,295.1 199.0,296.2 202.0,297.3 205.0,298.4 208.0,299.5 211.0,300.7 214.0,301.8 217.0,303.0 220.0,304.2 223.0,305.4" fill="none" stroke="#4c4a18" stroke-width="0.6" />
<polyline points="88.0,277.9 91.0,278.5 94.0,279.1 97.0,279.7 100.0,280.3 103.0,281.0 106.0,281.6 109.0,282.3 112.0,282.9 115.0,283.6 118.0,284.3 121.0,285.0 124.0,285.8 127.0,286.5 130.0,287.3 133.0,288.1 136.0,288.8 139.0,289.6 142.0,290.5 145.0,291.3 148.0,292.1 151.0,293.0 154.0,293.9 157.0,294.8 160.0,295.7 163.0,296.6 166.0,297.5 169.0,298.5 172.0,299.4 175.0,300.4 178.0,301.4 181.0,302.4 184.0,303.4 187.0,304.5 190.0,305.5 193.0,306.6 196.0,307.7 199.0,308.8 202.0,309.9 205.0,311.0 208.0,312.1 211.0,313.3 214.0,314.4 217.0,315.6 220.0,316.8 223.0,318.0" fill="none" stroke="#4c4a18" stroke-width="0.6" />
<polyline points="88.0,290.5 91.0,291.1 94.0,291.7 97.0,292.3 100.0,292.9 103.0,293.6 106.0,294.2 109.0,294.9 112.0,295.5 115.0,296.2 118.0,296.9 121.0,297.6 124.0,298.4 127.0,299.1 130.0,299.9 133.0,300.7 136.0,301.4 139.0,302.2 142.0,303.1 145.0,303.9 148.0,304.7 151.0,305.6 154.0,306.5 157.0,307.4 160.0,308.3 163.0,309.2 166.0,310.1 169.0,311.1 172.0,312.0 175.0,313.0 178.0,314.0 181.0,315.0 184.0,316.0 187.0,317.1 190.0,318.1 193.0,319.2 196.0,320.3 199.0,321.4 202.0,322.5 205.0,323.6 208.0,324.7 211.0,325.9 214.0,327.0 217.0,328.2 220.0,329.4 223.0,330.6" fill="none" stroke="#4c4a18" stroke-width="0.6" />
<polyline points="88.0,303.1 91.0,303.7 94.0,304.3 97.0,304.9 100.0,305.5 103.0,306.2 106.0,306.8 109.0,307.5 112.0,308.1 115.0,308.8 118.0,309.5 121.0,310.2 124.0,311.0 127.0,311.7 130.0,312.5 133.0,313.3 136.0,314.0 139.0,314.8 142.0,315.7 145.0,316.5 148.0,317.3 151.0,318.2 154.0,319.1 157.0,320.0 160.0,320.9 163.0,321.8 166.0,322.7 169.0,323.7 172.0,324.6 175.0,325.6 178.0,326.6 181.0,327.6 184.0,328.6 187.0,329.7 190.0,330.7 193.0,331.8 196.0,332.9 199.0,334.0 202.0,335.1 205.0,336.2 208.0,337.3 211.0,338.5 214.0,339.6 217.0,340.8 220.0,342.0 223.0,343.2" fill="none" stroke="#4c4a18" stroke-width="0.6" />
<polyline points="88.0,315.7 91.0,316.3 94.0,316.9 97.0,317.5 100.0,318.1 103.0,318.8 106.0,319.4 109.0,320.1 112.0,320.7 115.0,321.4 118.0,322.1 121.0,322.8 124.0,323.6 127.0,324.3 130.0,325.1 133.0,325.9 136.0,326.6 139.0,327.4 142.0,328.3 145.0,329.1 148.0,329.9 151.0,330.8 154.0,331.7 157.0,332.6 160.0,333.5 163.0,334.4 166.0,335.3 169.0,336.3 172.0,337.2 175.0,338.2 178.0,339.2 181.0,340.2 184.0,341.2 187.0,342.3 190.0,343.3 193.0,344.4 196.0,345.5 199.0,346.6 202.0,347.7 205.0,348.8 208.0,349.9 211.0,351.1 214.0,352.2 217.0,353.4 220.0,354.6 223.0,355.8" fill="none" stroke="#4c4a18" stroke-width="0.6" />
<polyline points="88.0,328.3 91.0,328.9 94.0,329.5 97.0,330.1 100.0,330.7 103.0,331.4 106.0,332.0 109.0,332.7 112.0,333.3 115.0,334.0 118.0,334.7 121.0,335.4 124.0,336.2 127.0,336.9 130.0,337.7 133.0,338.5 136.0,339.2 139.0,340.0 142.0,340.9 145.0,341.7 148.0,342.5 151.0,343.4 154.0,344.3 157.0,345.2 160.0,346.1 163.0,347.0 166.0,347.9 169.0,348.9 172.0,349.8 175.0,350.8 178.0,351.8 181.0,352.8 184.0,353.8 187.0,354.9 190.0,355.9 193.0,357.0 196.0,358.1 199.0,359.2 202.0,360.3 205.0,361.4 208.0,362.5 211.0,363.7 214.0,364.8 217.0,366.0 220.0,367.2 223.0,368.4" fill="none" stroke="#4c4a18" stroke-width="0.6" />
<polyline points="88.0,340.9 91.0,341.5 94.0,342.1 97.0,342.7 100.0,343.3 103.0,344.0 106.0,344.6 109.0,345.3 112.0,345.9 115.0,346.6 118.0,347.3 121.0,348.0 124.0,348.8 127.0,349.5 130.0,350.3 133.0,351.1 136.0,351.8 139.0,352.6 142.0,353.5 145.0,354.3 148.0,355.1 151.0,356.0 154.0,356.9 157.0,357.8 160.0,358.7 163.0,359.6 166.0,360.5 169.0,361.5 172.0,362.4 175.0,363.4 178.0,364.4 181.0,365.4 184.0,366.4 187.0,367.5 190.0,368.5 193.0,369.6 196.0,370.7 199.0,371.8 202.0,372.9 205.0,374.0 208.0,375.1 211.0,376.3 214.0,377.4 217.0,378.6 220.0,379.8 223.0,381.0" fill="none" stroke="#4c4a18" stroke-width="0.6" />
<polyline points="88.0,353.5 91.0,354.1 94.0,354.7 97.0,355.3 100.0,355.9 103.0,356.6 106.0,357.2 109.0,357.9 112.0,358.5 115.0,359.2 118.0,359.9 121.0,360.6 124.0,361.4 127.0,362.1 130.0,362.9 133.0,363.7 136.0,364.4 139.0,365.2 142.0,366.1 145.0,366.9 148.0,367.7 151.0,368.6 154.0,369.5 157.0,370.4 160.0,371.3 163.0,372.2 166.0,373.1 169.0,374.1 172.0,375.0 175.0,376.0 178.0,377.0 181.0,378.0 184.0,379.0 187.0,380.1 190.0,381.1 193.0,382.2 196.0,383.3 199.0,384.4 202.0,385.5 205.0,386.6 208.0,387.7 211.0,388.9 214.0,390.0 217.0,391.2 220.0,392.4 223.0,393.6" fill="none" stroke="#4c4a18" stroke-width="0.6" />
<polyline points="132.7,214.5 131.9,217.5 131.1,220.5 130.4,223.5 129.7,226.5 128.9,229.5 128.2,232.5 127.5,235.5 126.8,238.5 125.9,241.5 125.0,244.5 124.0,247.5 122.9,250.5 121.5,253.5 120.0,256.5 118.3,259.5 116.7,262.5 115.2,265.5 114.0,268.5 113.1,271.5 112.3,274.5 111.7,277.5 111.2,280.5 111.0,283.5 110.9,286.5 111.0,289.5 111.2,292.5 111.6,295.5 112.2,298.5 112.8,301.5 113.6,304.5 114.4,307.5 115.4,310.5 116.5,313.5 117.7,316.5 119.0,319.5 120.4,322.5 121.8,325.5 123.4,328.5 124.9,331.5 126.5,334.5 128.2,337.5 130.0,340.5 131.8,343.5 133.6,346.5 135.6,349.5" fill="none" stroke="#4c4a18" stroke-width="0.6" />
<polyline points="159.4,214.5 157.5,217.5 155.7,220.5 154.0,223.5 152.4,226.5 150.8,229.5 149.2,232.5 147.6,235.5 146.1,238.5 144.5,241.5 142.9,244.5 141.1,247.5 139.3,250.5 137.3,253.5 135.2,256.5 132.9,259.5 130.7,262.5 128.7,265.5 127.0,268.5 125.5,271.5 124.2,274.5 123.2,277.5 122.3,280.5 121.6,283.5 121.1,286.5 120.8,289.5 120.6,292.5 120.7,295.5 120.8,298.5 121.2,301.5 121.6,304.5 122.1,307.5 122.8,310.5 123.6,313.5 124.5,316.5 125.5,319.5 126.7,322.5 127.8,325.5 129.1,328.5 130.4,331.5 131.9,334.5 133.3,337.5 134.9,340.5 136.5,343.5 138.2,346.5 139.9,349.5" fill="none" stroke="#4c4a18" stroke-width="0.6" />
<polyline points="186.0,214.5 183.1,217.5 180.3,220.5 177.7,223.5 175.1,226.5 172.6,229.5 170.1,232.5 167.8,235.5 165.4,238.5 163.1,241.5 160.7,244.5 158.3,247.5 155.8,250.5 153.2,253.5 150.4,256.5 147.5,259.5 144.7,262.5 142.2,265.5 139.9,268.5 137.9,271.5 136.2,274.5 134.6,277.5 133.3,280.5 132.2,283.5 131.3,286.5 130.6,289.5 130.0,292.5 129.7,295.5 129.5,298.5 129.5,301.5 129.6,304.5 129.8,307.5 130.2,310.5 130.7,313.5 131.3,316.5 132.1,319.5 132.9,322.5 133.8,325.5 134.9,328.5 136.0,331.5 137.2,334.5 138.4,337.5 139.8,340.5 141.2,343.5 142.7,346.5 144.2,349.5" fill="none" stroke="#4c4a18" stroke-width="0.6" />
<polyline points="222.1,214.5 217.7,217.5 213.6,220.5 209.6,223.5 205.8,226.5 202.1,229.5 198.5,232.5 195.0,235.5 191.6,238.5 188.2,241.5 184.9,244.5 181.5,247.5 178.1,250.5 174.6,253.5 171.0,256.5 167.3,259.5 163.7,262.5 160.4,265.5 157.5,268.5 154.8,271.5 152.3,274.5 150.2,277.5 148.2,280.5 146.5,283.5 145.1,286.5 143.8,289.5 142.7,292.5 141.9,295.5 141.3,298.5 140.7,301.5 140.4,304.5 140.2,307.5 140.1,310.5 140.2,313.5 140.5,316.5 140.9,319.5 141.4,322.5 142.0,325.5 142.7,328.5 143.5,331.5 144.3,334.5 145.3,337.5 146.4,340.5 147.5,343.5 148.8,346.5 150.1,349.5" fill="none" stroke="#4c4a18" stroke-width="0.6" />
<polyline points="262.8,214.5 256.9,217.5 251.2,220.5 245.8,223.5 240.5,226.5 235.4,229.5 230.5,232.5 225.8,235.5 221.2,238.5 216.6,241.5 212.1,244.5 207.7,247.5 203.3,250.5 198.8,253.5 194.2,256.5 189.6,259.5 185.2,262.5 181.1,265.5 177.3,268.5 173.8,271.5 170.6,274.5 167.7,277.5 165.1,280.5 162.7,283.5 160.6,286.5 158.8,289.5 157.1,292.5 155.7,295.5 154.5,298.5 153.5,301.5 152.6,304.5 151.9,307.5 151.4,310.5 151.1,313.5 150.9,316.5 150.8,319.5 150.9,322.5 151.2,325.5 151.5,328.5 151.9,331.5 152.5,334.5 153.1,337.5 153.9,340.5 154.7,343.5 155.7,346.5 156.7,349.5" fill="none" stroke="#4c4a18" stroke-width="0.6" />
<polyline points="306.7,214.5 299.1,217.5 291.7,220.5 284.7,223.5 277.9,226.5 271.3,229.5 265.0,232.5 258.9,235.5 253.0,238.5 247.2,241.5 241.5,244.5 236.0,247.5 230.4,250.5 224.8,253.5 219.2,256.5 213.7,259.5 208.3,262.5 203.3,265.5 198.6,268.5 194.3,271.5 190.3,274.5 186.6,277.5 183.3,280.5 180.2,283.5 177.4,286.5 174.9,289.5 172.6,292.5 170.6,295.5 168.8,298.5 167.2,301.5 165.8,304.5 164.6,307.5 163.5,310.5 162.7,313.5 162.0,316.5 161.6,319.5 161.2,322.5 161.0,325.5 161.0,328.5 161.0,331.5 161.2,334.5 161.5,337.5 161.9,340.5 162.4,343.5 163.1,346.5 163.8,349.5" fill="none" stroke="#4c4a18" stroke-width="0.6" />
<polyline points="350.6,214.5 341.2,217.5 332.2,220.5 323.6,223.5 315.3,226.5 307.3,229.5 299.5,232.5 292.1,235.5 284.9,238.5 277.8,241.5 270.9,244.5 264.2,247.5 257.5,250.5 250.9,253.5 244.3,256.5 237.7,259.5 231.4,262.5 225.5,265.5 219.9,268.5 214.8,271.5 210.0,274.5 205.6,277.5 201.4,280.5 197.7,283.5 194.2,286.5 191.0,289.5 188.1,292.5 185.4,295.5 183.1,298.5 180.9,301.5 178.9,304.5 177.2,307.5 175.7,310.5 174.3,313.5 173.2,316.5 172.3,319.5 171.5,322.5 170.9,325.5 170.5,328.5 170.1,331.5 170.0,334.5 169.9,337.5 170.0,340.5 170.2,343.5 170.5,346.5 171.0,349.5" fill="none" stroke="#4c4a18" stroke-width="0.6" />
<polyline points="394.5,214.5 383.4,217.5 372.8,220.5 362.5,223.5 352.7,226.5 343.2,229.5 334.0,232.5 325.2,235.5 316.7,238.5 308.4,241.5 300.3,244.5 292.4,247.5 284.7,250.5 277.0,253.5 269.3,256.5 261.8,259.5 254.5,262.5 247.7,265.5 241.3,268.5 235.3,271.5 229.7,274.5 224.5,277.5 219.6,280.5 215.1,283.5 210.9,286.5 207.1,289.5 203.5,292.5 200.3,295.5 197.4,298.5 194.6,301.5 192.1,304.5 189.8,307.5 187.8,310.5 186.0,313.5 184.4,316.5 183.0,319.5 181.8,322.5 180.8,325.5 180.0,328.5 179.3,331.5 178.7,334.5 178.3,337.5 178.0,340.5 177.9,343.5 177.9,346.5 178.1,349.5" fill="none" stroke="#4c4a18" stroke-width="0.6" />
<polyline points="438.4,214.5 425.6,217.5 413.3,220.5 401.4,223.5 390.1,226.5 379.1,229.5 368.6,232.5 358.4,235.5 348.6,238.5 339.0,241.5 329.7,244.5 320.7,247.5 311.8,250.5 303.0,253.5 294.4,256.5 285.8,259.5 277.6,262.5 269.9,265.5 262.6,268.5 255.8,271.5 249.4,274.5 243.4,277.5 237.8,280.5 232.6,283.5 227.7,286.5 223.2,289.5 219.0,292.5 215.2,295.5 211.6,298.5 208.4,301.5 205.3,304.5 202.5,307.5 199.9,310.5 197.6,313.5 195.6,316.5 193.8,319.5 192.1,322.5 190.7,325.5 189.4,328.5 188.4,331.5 187.4,334.5 186.7,337.5 186.1,340.5 185.7,343.5 185.4,346.5 185.2,349.5" fill="none" stroke="#4c4a18" stroke-width="0.6" />
<polyline points="482.3,214.5 467.7,217.5 453.8,220.5 440.4,223.5 427.4,226.5 415.0,229.5 403.1,232.5 391.6,235.5 380.4,238.5 369.6,241.5 359.1,244.5 348.9,247.5 338.9,250.5 329.1,253.5 319.4,256.5 309.9,259.5 300.7,262.5 292.1,265.5 283.9,268.5 276.2,271.5 269.0,274.5 262.3,277.5 255.9,280.5 250.0,283.5 244.5,286.5 239.3,289.5 234.5,292.5 230.0,295.5 225.9,298.5 222.1,301.5 218.4,304.5 215.1,307.5 212.1,310.5 209.3,313.5 206.8,316.5 204.5,319.5 202.4,322.5 200.6,325.5 198.9,328.5 197.5,331.5 196.2,334.5 195.1,337.5 194.2,340.5 193.4,343.5 192.8,346.5 192.3,349.5" fill="none" stroke="#4c4a18" stroke-width="0.6" />
<polyline points="526.2,214.5 509.9,217.5 494.3,220.5 479.3,223.5 464.8,226.5 450.9,229.5 437.6,232.5 424.7,235.5 412.3,238.5 400.2,241.5 388.5,244.5 377.1,247.5 366.0,250.5 355.2,253.5 344.4,256.5 333.9,259.5 323.8,262.5 314.3,265.5 305.2,268.5 296.7,271.5 288.7,274.5 281.2,277.5 274.1,280.5 267.5,283.5 261.2,286.5 255.4,289.5 250.0,292.5 244.9,295.5 240.2,298.5 235.8,301.5 231.6,304.5 227.7,307.5 224.2,310.5 220.9,313.5 217.9,316.5 215.2,319.5 212.7,322.5 210.5,325.5 208.4,328.5 206.6,331.5 204.9,334.5 203.5,337.5 202.2,340.5 201.1,343.5 200.2,346.5 199.5,349.5" fill="none" stroke="#4c4a18" stroke-width="0.6" /></g>
<clipPath id="RtealA"><polygon points="52.0,217.9 169.5,211.2 169.3,216.5 166.5,219.0 149.0,235.4 132.2,245.0 119.4,250.4 101.5,256.4"/></clipPath>
<g clip-path="url(#RtealA)"><g opacity="0.45"><line x1="11.4" y1="208.0" x2="50.0" y2="262.0" stroke="#4c6a24" stroke-width="0.55" />
<line x1="23.4" y1="208.0" x2="62.0" y2="262.0" stroke="#4c6a24" stroke-width="0.55" />
<line x1="35.4" y1="208.0" x2="74.0" y2="262.0" stroke="#4c6a24" stroke-width="0.55" />
<line x1="47.4" y1="208.0" x2="86.0" y2="262.0" stroke="#4c6a24" stroke-width="0.55" />
<line x1="59.4" y1="208.0" x2="98.0" y2="262.0" stroke="#4c6a24" stroke-width="0.55" />
<line x1="71.4" y1="208.0" x2="110.0" y2="262.0" stroke="#4c6a24" stroke-width="0.55" />
<line x1="83.4" y1="208.0" x2="122.0" y2="262.0" stroke="#4c6a24" stroke-width="0.55" />
<line x1="95.4" y1="208.0" x2="134.0" y2="262.0" stroke="#4c6a24" stroke-width="0.55" />
<line x1="107.4" y1="208.0" x2="146.0" y2="262.0" stroke="#4c6a24" stroke-width="0.55" />
<line x1="119.4" y1="208.0" x2="158.0" y2="262.0" stroke="#4c6a24" stroke-width="0.55" />
<line x1="131.4" y1="208.0" x2="170.0" y2="262.0" stroke="#4c6a24" stroke-width="0.55" />
<line x1="143.4" y1="208.0" x2="182.0" y2="262.0" stroke="#4c6a24" stroke-width="0.55" />
<line x1="155.4" y1="208.0" x2="194.0" y2="262.0" stroke="#4c6a24" stroke-width="0.55" />
<line x1="167.4" y1="208.0" x2="206.0" y2="262.0" stroke="#4c6a24" stroke-width="0.55" />
<line x1="50.0" y1="193.4" x2="172.0" y2="208.0" stroke="#4c6a24" stroke-width="0.55" />
<line x1="50.0" y1="198.6" x2="172.0" y2="213.2" stroke="#4c6a24" stroke-width="0.55" />
<line x1="50.0" y1="203.8" x2="172.0" y2="218.4" stroke="#4c6a24" stroke-width="0.55" />
<line x1="50.0" y1="209.0" x2="172.0" y2="223.6" stroke="#4c6a24" stroke-width="0.55" />
<line x1="50.0" y1="214.2" x2="172.0" y2="228.8" stroke="#4c6a24" stroke-width="0.55" />
<line x1="50.0" y1="219.4" x2="172.0" y2="234.0" stroke="#4c6a24" stroke-width="0.55" />
<line x1="50.0" y1="224.6" x2="172.0" y2="239.2" stroke="#4c6a24" stroke-width="0.55" />
<line x1="50.0" y1="229.8" x2="172.0" y2="244.4" stroke="#4c6a24" stroke-width="0.55" />
<line x1="50.0" y1="235.0" x2="172.0" y2="249.6" stroke="#4c6a24" stroke-width="0.55" />
<line x1="50.0" y1="240.2" x2="172.0" y2="254.8" stroke="#4c6a24" stroke-width="0.55" />
<line x1="50.0" y1="245.4" x2="172.0" y2="260.0" stroke="#4c6a24" stroke-width="0.55" />
<line x1="50.0" y1="250.6" x2="172.0" y2="265.2" stroke="#4c6a24" stroke-width="0.55" />
<line x1="50.0" y1="255.8" x2="172.0" y2="270.4" stroke="#4c6a24" stroke-width="0.55" />
<line x1="50.0" y1="261.0" x2="172.0" y2="275.6" stroke="#4c6a24" stroke-width="0.55" /></g></g>
<g clip-path="url(#Rplane)"><g opacity="0.7"><line x1="52.0" y1="217.9" x2="120.2" y2="271.0" stroke="#1c2a18" stroke-width="0.6" />
<line x1="52.0" y1="217.9" x2="278.2" y2="203.4" stroke="#1c2a18" stroke-width="0.6" />
<line x1="67.7" y1="216.9" x2="140.2" y2="269.2" stroke="#1c2a18" stroke-width="0.6" />
<line x1="55.3" y1="220.5" x2="284.2" y2="205.5" stroke="#1c2a18" stroke-width="0.6" />
<line x1="83.1" y1="215.9" x2="159.8" y2="267.4" stroke="#1c2a18" stroke-width="0.6" />
<line x1="58.7" y1="223.1" x2="290.5" y2="207.6" stroke="#1c2a18" stroke-width="0.6" />
<line x1="98.3" y1="214.9" x2="179.0" y2="265.6" stroke="#1c2a18" stroke-width="0.6" />
<line x1="62.2" y1="225.8" x2="296.8" y2="209.8" stroke="#1c2a18" stroke-width="0.6" />
<line x1="113.4" y1="214.0" x2="197.9" y2="263.9" stroke="#1c2a18" stroke-width="0.6" />
<line x1="65.8" y1="228.6" x2="303.4" y2="212.1" stroke="#1c2a18" stroke-width="0.6" />
<line x1="128.2" y1="213.0" x2="216.5" y2="262.2" stroke="#1c2a18" stroke-width="0.6" />
<line x1="69.5" y1="231.5" x2="310.2" y2="214.4" stroke="#1c2a18" stroke-width="0.6" />
<line x1="142.7" y1="212.1" x2="234.7" y2="260.5" stroke="#1c2a18" stroke-width="0.6" />
<line x1="73.3" y1="234.5" x2="317.1" y2="216.8" stroke="#1c2a18" stroke-width="0.6" />
<line x1="157.1" y1="211.2" x2="252.5" y2="258.9" stroke="#1c2a18" stroke-width="0.6" />
<line x1="77.3" y1="237.6" x2="324.3" y2="219.3" stroke="#1c2a18" stroke-width="0.6" />
<line x1="171.3" y1="210.3" x2="270.1" y2="257.3" stroke="#1c2a18" stroke-width="0.6" />
<line x1="81.4" y1="240.8" x2="331.7" y2="221.8" stroke="#1c2a18" stroke-width="0.6" />
<line x1="185.3" y1="209.4" x2="287.3" y2="255.7" stroke="#1c2a18" stroke-width="0.6" />
<line x1="85.7" y1="244.1" x2="339.3" y2="224.5" stroke="#1c2a18" stroke-width="0.6" />
<line x1="199.1" y1="208.5" x2="304.3" y2="254.2" stroke="#1c2a18" stroke-width="0.6" />
<line x1="90.1" y1="247.5" x2="347.2" y2="227.2" stroke="#1c2a18" stroke-width="0.6" />
<line x1="212.8" y1="207.6" x2="320.9" y2="252.6" stroke="#1c2a18" stroke-width="0.6" />
<line x1="94.6" y1="251.1" x2="355.3" y2="230.0" stroke="#1c2a18" stroke-width="0.6" />
<line x1="226.2" y1="206.7" x2="337.3" y2="251.1" stroke="#1c2a18" stroke-width="0.6" />
<line x1="99.4" y1="254.8" x2="363.6" y2="232.9" stroke="#1c2a18" stroke-width="0.6" />
<line x1="239.5" y1="205.9" x2="353.4" y2="249.7" stroke="#1c2a18" stroke-width="0.6" />
<line x1="104.3" y1="258.6" x2="372.3" y2="235.8" stroke="#1c2a18" stroke-width="0.6" />
<line x1="252.5" y1="205.0" x2="369.2" y2="248.2" stroke="#1c2a18" stroke-width="0.6" />
<line x1="109.4" y1="262.6" x2="381.2" y2="238.9" stroke="#1c2a18" stroke-width="0.6" />
<line x1="265.5" y1="204.2" x2="384.7" y2="246.8" stroke="#1c2a18" stroke-width="0.6" />
<line x1="114.7" y1="266.7" x2="390.4" y2="242.1" stroke="#1c2a18" stroke-width="0.6" />
<line x1="278.2" y1="203.4" x2="400.0" y2="245.4" stroke="#1c2a18" stroke-width="0.6" />
<line x1="120.2" y1="271.0" x2="400.0" y2="245.4" stroke="#1c2a18" stroke-width="0.6" /></g></g>
<polyline points="120.2,271.2 400.8,245.3 278.2,203.4" fill="none" stroke="#5e6b4a" stroke-width="0.5" />
<polyline points="179.5,263.7 186.8,277.3 198.3,292.6 207.8,306.0 211.6,317.4 211.6,317.4 211.1,319.0 210.7,320.6 210.3,322.1 209.8,323.7 209.0,325.2 207.8,326.7 206.2,328.1 204.4,329.5 202.3,330.8 199.9,332.0 197.3,333.3 194.4,334.4 191.1,335.5 187.3,336.6 183.3,337.6 179.2,338.5 175.2,339.3 171.5,340.0 168.0,340.6 164.6,341.1 161.4,341.5 158.2,341.8 155.2,342.0 152.4,342.0 149.7,341.8 147.2,341.4 144.9,340.8 142.7,340.2 140.7,339.5 139.0,339.0 137.7,338.5 136.9,338.0 136.2,337.5 135.6,337.1 134.7,336.7 133.3,336.3 131.4,336.0 129.1,335.8 126.5,335.6 123.8,335.4 121.2,335.2 118.6,335.0" fill="none" stroke="#7a4a08" stroke-width="0.5" />
<polyline points="141.0,337.0 141.0,324.0 151.0,324.3 162.7,325.0 168.0,327.5 173.6,328.3 180.0,331.0 186.7,331.6" fill="none" stroke="#4a3808" stroke-width="0.55" />
<line x1="177.0" y1="213.4" x2="271.0" y2="258.2" stroke="#ffffff" stroke-width="1.3" />
<line x1="278.3" y1="228.0" x2="278.3" y2="259.5" stroke="#7f8a70" stroke-width="0.7" />
<polygon points="171.2,176.1 268.2,212.4 388.5,205.3 391.4,204.8 391.4,225.4 383.0,232.5 376.0,235.8 356.8,237.0 309.0,234.6 261.4,229.8 213.7,222.7 170.6,213.1" fill="url(#gWallR)" />
<polygon points="171.2,176.1 268.2,212.4 388.5,205.3 391.4,204.8 391.4,225.4 383.0,232.5 376.0,235.8 356.8,237.0 309.0,234.6 261.4,229.8 213.7,222.7 170.6,213.1" fill="url(#gWallR2)" />
<clipPath id="Rwall"><polygon points="171.2,176.1 268.2,212.4 388.5,205.3 391.4,204.8 391.4,225.4 383.0,232.5 376.0,235.8 356.8,237.0 309.0,234.6 261.4,229.8 213.7,222.7 170.6,213.1"/></clipPath>
<g clip-path="url(#Rwall)"><g opacity="0.7"><polyline points="176.0,175.9 178.0,180.9 180.3,185.9 182.9,190.9 186.0,195.9 189.5,200.9 193.4,205.9 197.9,210.9 202.9,215.9 208.5,220.9 214.7,225.9 221.7,230.9 229.5,235.9" fill="none" stroke="#4a423e" stroke-width="0.6" />
<polyline points="183.0,178.5 185.0,183.5 187.4,188.5 190.1,193.5 193.2,198.5 196.8,203.5 200.8,208.5 205.4,213.5 210.5,218.5 216.2,223.5 222.6,228.5 229.8,233.5 237.8,238.5" fill="none" stroke="#4a423e" stroke-width="0.6" />
<polyline points="191.0,181.5 193.1,186.5 195.5,191.5 198.3,196.5 201.5,201.5 205.2,206.5 209.3,211.5 214.0,216.5 219.3,221.5 225.2,226.5 231.7,231.5 239.1,236.5 247.3,241.5" fill="none" stroke="#4a423e" stroke-width="0.6" />
<polyline points="200.0,184.9 202.1,189.9 204.6,194.9 207.5,199.9 210.9,204.9 214.6,209.9 218.9,214.9 223.8,219.9 229.2,224.9 235.3,229.9 242.1,234.9 249.7,239.9 258.1,244.9" fill="none" stroke="#4a423e" stroke-width="0.6" />
<polyline points="210.0,188.6 212.2,193.6 214.8,198.6 217.8,203.6 221.3,208.6 225.2,213.6 229.6,218.6 234.6,223.6 240.3,228.6 246.6,233.6 253.6,238.6 261.5,243.6 270.3,248.6" fill="none" stroke="#4a423e" stroke-width="0.6" />
<polyline points="222.0,193.1 224.3,198.1 227.0,203.1 230.2,208.1 233.8,213.1 237.9,218.1 242.5,223.1 247.8,228.1 253.7,233.1 260.3,238.1 267.7,243.1 275.9,248.1 285.1,253.1" fill="none" stroke="#4a423e" stroke-width="0.6" />
<polyline points="236.0,198.3 238.5,203.3 241.3,208.3 244.7,213.3 248.5,218.3 252.8,223.3 257.7,228.3 263.3,233.3 269.5,238.3 276.5,243.3 284.3,248.3 293.0,253.3 302.7,258.3" fill="none" stroke="#4a423e" stroke-width="0.6" />
<polyline points="252.0,204.3 254.6,209.3 257.7,214.3 261.3,219.3 265.4,224.3 270.0,229.3 275.3,234.3 281.2,239.3 287.9,244.3 295.3,249.3 303.7,254.3 313.0,259.3 323.4,264.3" fill="none" stroke="#4a423e" stroke-width="0.6" />
<polyline points="270.0,210.3 272.9,215.3 276.2,220.3 280.1,225.3 284.5,230.3 289.5,235.3 295.3,240.3 301.7,245.3 308.9,250.3 317.1,255.3 326.1,260.3 336.3,265.3 347.6,270.3" fill="none" stroke="#4a423e" stroke-width="0.6" />
<polyline points="290.0,209.1 293.2,214.1 296.9,219.1 301.1,224.1 306.0,229.1 311.6,234.1 317.9,239.1 325.1,244.1 333.1,249.1 342.0,254.1 352.1,259.1 363.3,264.1 375.8,269.1" fill="none" stroke="#4a423e" stroke-width="0.6" />
<polyline points="311.0,207.9 314.6,212.9 318.7,217.9 323.5,222.9 329.0,227.9 335.3,232.9 342.4,237.9 350.4,242.9 359.5,247.9 369.5,252.9 380.8,257.9 393.5,262.9 407.5,267.9" fill="none" stroke="#4a423e" stroke-width="0.6" />
<polyline points="333.0,206.6 337.1,211.6 341.9,216.6 347.4,221.6 353.8,226.6 361.0,231.6 369.2,236.6 378.4,241.6 388.8,246.6 400.4,251.6 413.4,256.6 427.9,261.6 444.1,266.6" fill="none" stroke="#4a423e" stroke-width="0.6" />
<polyline points="355.0,205.3 359.8,210.3 365.5,215.3 372.0,220.3 379.4,225.3 387.9,230.3 397.6,235.3 408.4,240.3 420.6,245.3 434.3,250.3 449.6,255.3 466.7,260.3 485.8,265.3" fill="none" stroke="#4a423e" stroke-width="0.6" />
<polyline points="376.0,204.0 381.8,209.0 388.6,214.0 396.4,219.0 405.4,224.0 415.7,229.0 427.3,234.0 440.3,239.0 455.0,244.0 471.5,249.0 489.9,254.0 510.5,259.0 533.4,264.0" fill="none" stroke="#4a423e" stroke-width="0.6" />
<polyline points="150.0,234.0 155.0,228.6 160.0,223.4 165.0,218.4 170.0,213.5 175.0,208.9 180.0,204.5 185.0,200.2 190.0,196.2 195.0,192.3 200.0,188.6 205.0,185.1 210.0,181.9 215.0,178.8 220.0,175.9 225.0,173.2 230.0,170.6" fill="none" stroke="#4a423e" stroke-width="0.6" />
<polyline points="160.0,225.0 165.0,219.6 170.0,214.4 175.0,209.4 180.0,204.5 185.0,199.9 190.0,195.5 195.0,191.2 200.0,187.2 205.0,183.3 210.0,179.6 215.0,176.1 220.0,172.9 225.0,169.8 230.0,166.9 235.0,164.2 240.0,161.6" fill="none" stroke="#4a423e" stroke-width="0.6" />
<polyline points="171.0,215.2 176.0,209.8 181.0,204.6 186.0,199.6 191.0,194.7 196.0,190.1 201.0,185.7 206.0,181.4 211.0,177.3 216.0,173.5 221.0,169.8 226.0,166.3 231.0,163.0 236.0,160.0 241.0,157.1 246.0,154.3 251.0,151.8" fill="none" stroke="#4a423e" stroke-width="0.6" />
<polyline points="182.0,217.6 187.0,212.4 192.0,207.3 197.0,202.4 202.0,197.7 207.0,193.2 212.0,188.8 217.0,184.7 222.0,180.7 227.0,177.0 232.0,173.4 237.0,170.0 242.0,166.8 247.0,163.8 252.0,161.0 257.0,158.3 262.0,155.9" fill="none" stroke="#4a423e" stroke-width="0.6" />
<polyline points="195.0,220.5 200.0,215.4 205.0,210.5 210.0,205.8 215.0,201.2 220.0,196.8 225.0,192.6 230.0,188.6 235.0,184.8 240.0,181.1 245.0,177.6 250.0,174.3 255.0,171.2 260.0,168.3 265.0,165.6 270.0,163.0 275.0,160.6" fill="none" stroke="#4a423e" stroke-width="0.6" />
<polyline points="210.0,223.9 215.0,219.0 220.0,214.2 225.0,209.6 230.0,205.2 235.0,201.0 240.0,197.0 245.0,193.1 250.0,189.4 255.0,185.9 260.0,182.5 265.0,179.4 270.0,176.4 275.0,173.5 280.0,170.9 285.0,168.4 290.0,166.1" fill="none" stroke="#4a423e" stroke-width="0.6" />
<polyline points="227.0,226.7 232.0,222.0 237.0,217.4 242.0,213.0 247.0,208.8 252.0,204.8 257.0,200.9 262.0,197.2 267.0,193.7 272.0,190.3 277.0,187.1 282.0,184.0 287.0,181.2 292.0,178.5 297.0,175.9 302.0,173.6 307.0,171.4" fill="none" stroke="#4a423e" stroke-width="0.6" />
<polyline points="246.0,229.5 251.0,225.0 256.0,220.7 261.0,216.5 266.0,212.5 271.0,208.7 276.0,205.0 281.0,201.5 286.0,198.1 291.0,194.9 296.0,191.9 301.0,189.0 306.0,186.3 311.0,183.7 316.0,181.3 321.0,179.0 326.0,176.9" fill="none" stroke="#4a423e" stroke-width="0.6" />
<polyline points="267.0,232.4 272.0,228.1 277.0,224.1 282.0,220.1 287.0,216.4 292.0,212.7 297.0,209.3 302.0,206.0 307.0,202.8 312.0,199.8 317.0,196.9 322.0,194.2 327.0,191.6 332.0,189.2 337.0,186.9 342.0,184.8 347.0,182.8" fill="none" stroke="#4a423e" stroke-width="0.6" />
<polyline points="290.0,234.7 295.0,230.7 300.0,226.9 305.0,223.3 310.0,219.8 315.0,216.4 320.0,213.1 325.0,210.0 330.0,207.1 335.0,204.3 340.0,201.6 345.0,199.0 350.0,196.6 355.0,194.4 360.0,192.3 365.0,190.3 370.0,188.5" fill="none" stroke="#4a423e" stroke-width="0.6" />
<polyline points="314.0,236.9 319.0,233.2 324.0,229.7 329.0,226.3 334.0,223.0 339.0,219.9 344.0,216.9 349.0,214.0 354.0,211.3 359.0,208.7 364.0,206.2 369.0,203.9 374.0,201.7 379.0,199.6 384.0,197.6 389.0,195.8 394.0,194.1" fill="none" stroke="#4a423e" stroke-width="0.6" />
<polyline points="338.0,238.1 343.0,234.7 348.0,231.5 353.0,228.4 358.0,225.4 363.0,222.5 368.0,219.7 373.0,217.1 378.0,214.6 383.0,212.2 388.0,209.9 393.0,207.7 398.0,205.7 403.0,203.8 408.0,202.0 413.0,200.3 418.0,198.7" fill="none" stroke="#4a423e" stroke-width="0.6" />
<polyline points="362.0,238.7 367.0,235.6 372.0,232.7 377.0,229.8 382.0,227.1 387.0,224.5 392.0,222.0 397.0,219.6 402.0,217.3 407.0,215.1 412.0,213.0 417.0,211.0 422.0,209.2 427.0,207.4 432.0,205.8 437.0,204.2 442.0,202.8" fill="none" stroke="#4a423e" stroke-width="0.6" /></g></g>
<polygon points="171.2,176.1 175.9,177.1 180.6,178.1 185.2,179.1 189.9,180.1 194.8,181.1 200.0,182.2 205.4,183.3 210.8,184.4 216.5,185.5 222.4,186.7 228.5,187.8 235.0,189.0 241.9,190.2 249.1,191.5 256.7,192.8 264.4,194.0 272.1,195.2 279.7,196.2 287.2,197.1 294.8,197.9 302.4,198.6 310.0,199.3 317.7,199.9 325.5,200.4 333.6,200.9 342.0,201.3 350.5,201.6 358.7,201.9 366.4,202.2 373.3,202.4 379.2,202.6 384.3,202.7 388.8,202.8 393.1,202.9 397.4,202.9 402.0,203.0 402.0,203.0 388.5,205.3 268.2,212.4" fill="#d4d4d4" />
<polyline points="171.2,176.1 175.9,177.1 180.6,178.1 185.2,179.1 189.9,180.1 194.8,181.1 200.0,182.2 205.4,183.3 210.8,184.4 216.5,185.5 222.4,186.7 228.5,187.8 235.0,189.0 241.9,190.2 249.1,191.5 256.7,192.8 264.4,194.0 272.1,195.2 279.7,196.2 287.2,197.1 294.8,197.9 302.4,198.6 310.0,199.3 317.7,199.9 325.5,200.4 333.6,200.9 342.0,201.3 350.5,201.6 358.7,201.9 366.4,202.2 373.3,202.4 379.2,202.6 384.3,202.7 388.8,202.8 393.1,202.9 397.4,202.9 402.0,203.0" fill="none" stroke="#555" stroke-width="0.6" />
<polyline points="171.2,176.1 176.8,177.7 182.4,179.3 188.0,180.9 193.6,182.5 199.3,184.0 205.0,185.5 210.6,186.9 216.2,188.2 221.8,189.4 227.5,190.6 233.6,191.8 240.0,193.0 246.9,194.2 254.3,195.4 261.9,196.6 269.6,197.7 277.4,198.7 285.0,199.6 292.5,200.4 300.0,201.0 307.5,201.6 315.0,202.0 322.5,202.4 330.0,202.8 337.8,203.1 345.8,203.3 353.9,203.5 361.6,203.6 368.8,203.7 375.0,203.8 380.1,203.8 384.3,203.8 387.9,203.8 391.1,203.7 394.4,203.6 398.0,203.6" fill="none" stroke="#555" stroke-width="0.6" />
<polyline points="171.2,176.1 178.6,178.6 186.1,181.1 193.6,183.7 201.1,186.1 208.2,188.4 215.0,190.5 221.3,192.3 227.1,193.9 232.7,195.3 238.3,196.6 244.0,197.9 250.0,199.0 256.3,200.1 262.8,201.1 269.4,201.9 276.1,202.7 283.0,203.4 290.0,204.0 297.2,204.5 304.6,204.9 312.2,205.2 319.8,205.4 327.4,205.5 335.0,205.6 342.8,205.6 351.1,205.5 359.3,205.3 367.1,205.1 374.2,204.9 380.0,204.8 384.3,204.7 387.5,204.6 389.8,204.5 391.7,204.4 393.7,204.3 396.0,204.2" fill="none" stroke="#f2f2f2" stroke-width="0.9" />
<polyline points="171.2,176.1 268.2,212.4 388.5,205.3" fill="none" stroke="#777" stroke-width="0.5" />
<line x1="44.0" y1="178.0" x2="278.3" y2="166.2" stroke="#4c4c4c" stroke-width="0.65" />
<line x1="278.3" y1="166.2" x2="411.3" y2="201.4" stroke="#4c4c4c" stroke-width="0.65" />
<line x1="44.0" y1="178.0" x2="47.6" y2="279.0" stroke="#4c4c4c" stroke-width="0.65" />
<line x1="411.3" y1="201.4" x2="406.3" y2="319.0" stroke="#4c4c4c" stroke-width="0.65" />
<line x1="47.6" y1="279.0" x2="117.6" y2="353.7" stroke="#4c4c4c" stroke-width="0.65" />
<line x1="117.6" y1="353.7" x2="406.3" y2="319.0" stroke="#4c4c4c" stroke-width="0.65" />
<line x1="411.3" y1="201.4" x2="115.3" y2="221.0" stroke="#747474" stroke-width="0.8" />
<line x1="115.3" y1="221.0" x2="44.0" y2="178.0" stroke="#747474" stroke-width="0.8" />
<line x1="115.3" y1="221.0" x2="117.6" y2="353.7" stroke="#747474" stroke-width="0.8" />
<line x1="47.4" y1="273.6" x2="50.2" y2="273.3" stroke="#555" stroke-width="0.7" />
<line x1="47.2" y1="268.0" x2="50.0" y2="267.7" stroke="#555" stroke-width="0.7" />
<line x1="47.0" y1="262.4" x2="52.6" y2="261.7" stroke="#555" stroke-width="0.7" />
<line x1="46.8" y1="256.8" x2="49.6" y2="256.5" stroke="#555" stroke-width="0.7" />
<line x1="46.6" y1="251.2" x2="49.4" y2="250.9" stroke="#555" stroke-width="0.7" />
<line x1="46.4" y1="245.6" x2="49.2" y2="245.3" stroke="#555" stroke-width="0.7" />
<line x1="46.2" y1="240.0" x2="51.8" y2="239.3" stroke="#555" stroke-width="0.7" />
<line x1="46.0" y1="234.4" x2="48.8" y2="234.0" stroke="#555" stroke-width="0.7" />
<line x1="45.8" y1="228.8" x2="48.6" y2="228.4" stroke="#555" stroke-width="0.7" />
<line x1="45.6" y1="223.2" x2="48.4" y2="222.8" stroke="#555" stroke-width="0.7" />
<line x1="45.4" y1="217.6" x2="51.0" y2="216.9" stroke="#555" stroke-width="0.7" />
<line x1="45.2" y1="212.0" x2="48.0" y2="211.6" stroke="#555" stroke-width="0.7" />
<line x1="45.0" y1="206.4" x2="47.8" y2="206.0" stroke="#555" stroke-width="0.7" />
<line x1="44.8" y1="200.8" x2="47.6" y2="200.4" stroke="#555" stroke-width="0.7" />
<line x1="44.6" y1="195.2" x2="50.2" y2="194.5" stroke="#555" stroke-width="0.7" />
<line x1="44.4" y1="189.5" x2="47.2" y2="189.2" stroke="#555" stroke-width="0.7" />
<line x1="44.2" y1="183.9" x2="47.0" y2="183.6" stroke="#555" stroke-width="0.7" />
<line x1="47.6" y1="279.0" x2="47.8" y2="274.0" stroke="#555" stroke-width="0.7" />
<line x1="56.3" y1="288.3" x2="56.4" y2="285.3" stroke="#555" stroke-width="0.7" />
<line x1="64.6" y1="297.1" x2="64.7" y2="294.1" stroke="#555" stroke-width="0.7" />
<line x1="72.4" y1="305.5" x2="72.5" y2="302.5" stroke="#555" stroke-width="0.7" />
<line x1="79.9" y1="313.4" x2="79.9" y2="310.4" stroke="#555" stroke-width="0.7" />
<line x1="86.9" y1="321.0" x2="87.1" y2="316.0" stroke="#555" stroke-width="0.7" />
<line x1="93.7" y1="328.1" x2="93.7" y2="325.1" stroke="#555" stroke-width="0.7" />
<line x1="100.1" y1="335.0" x2="100.2" y2="332.0" stroke="#555" stroke-width="0.7" />
<line x1="106.2" y1="341.5" x2="106.3" y2="338.5" stroke="#555" stroke-width="0.7" />
<line x1="112.0" y1="347.7" x2="112.1" y2="344.7" stroke="#555" stroke-width="0.7" />
<line x1="117.6" y1="353.7" x2="117.8" y2="348.7" stroke="#555" stroke-width="0.7" />
<line x1="44.0" y1="178.0" x2="44.3" y2="179.1" stroke="#555" stroke-width="0.6" />
<line x1="54.5" y1="177.5" x2="54.7" y2="178.1" stroke="#555" stroke-width="0.6" />
<line x1="65.1" y1="176.9" x2="65.3" y2="177.5" stroke="#555" stroke-width="0.6" />
<line x1="75.9" y1="176.4" x2="76.1" y2="177.0" stroke="#555" stroke-width="0.6" />
<line x1="86.8" y1="175.8" x2="86.9" y2="176.4" stroke="#555" stroke-width="0.6" />
<line x1="97.7" y1="175.3" x2="98.1" y2="176.4" stroke="#555" stroke-width="0.6" />
<line x1="108.8" y1="174.7" x2="109.0" y2="175.3" stroke="#555" stroke-width="0.6" />
<line x1="120.1" y1="174.2" x2="120.3" y2="174.8" stroke="#555" stroke-width="0.6" />
<line x1="131.4" y1="173.6" x2="131.6" y2="174.2" stroke="#555" stroke-width="0.6" />
<line x1="142.9" y1="173.0" x2="143.1" y2="173.6" stroke="#555" stroke-width="0.6" />
<line x1="154.5" y1="172.4" x2="154.8" y2="173.5" stroke="#555" stroke-width="0.6" />
<line x1="166.3" y1="171.8" x2="166.4" y2="172.4" stroke="#555" stroke-width="0.6" />
<line x1="178.1" y1="171.2" x2="178.3" y2="171.8" stroke="#555" stroke-width="0.6" />
<line x1="190.2" y1="170.6" x2="190.3" y2="171.2" stroke="#555" stroke-width="0.6" />
<line x1="202.3" y1="170.0" x2="202.5" y2="170.6" stroke="#555" stroke-width="0.6" />
<line x1="214.6" y1="169.4" x2="214.9" y2="170.5" stroke="#555" stroke-width="0.6" />
<line x1="227.0" y1="168.8" x2="227.2" y2="169.4" stroke="#555" stroke-width="0.6" />
<line x1="239.6" y1="168.1" x2="239.8" y2="168.7" stroke="#555" stroke-width="0.6" />
<line x1="252.4" y1="167.5" x2="252.5" y2="168.1" stroke="#555" stroke-width="0.6" />
<line x1="265.3" y1="166.9" x2="265.4" y2="167.5" stroke="#555" stroke-width="0.6" />
<line x1="278.3" y1="166.2" x2="278.6" y2="167.3" stroke="#555" stroke-width="0.6" />
<text x="9.8" y="174.7" font-size="17" font-weight="bold" font-style="normal" text-anchor="start" >−1.0</text>
<text x="70.0" y="174.0" font-size="17" font-weight="bold" font-style="normal" text-anchor="start" >−0.5</text>
<text x="136.6" y="171.6" font-size="17" font-weight="bold" font-style="normal" text-anchor="start" >0.0</text>
<text x="192.1" y="169.5" font-size="17" font-weight="bold" font-style="normal" text-anchor="start" >0.5</text>
<text x="245.3" y="167.7" font-size="17" font-weight="bold" font-style="normal" text-anchor="start" >1.0</text>
<text x="132.2" y="148.6" font-size="16.5" font-weight="bold" font-style="italic" text-anchor="start" >η</text>
<text x="29.6" y="201.0" font-size="17" font-weight="bold" font-style="normal" text-anchor="start" >2</text>
<text x="29.6" y="223.1" font-size="17" font-weight="bold" font-style="normal" text-anchor="start" >0</text>
<text x="20.2" y="246.2" font-size="17" font-weight="bold" font-style="normal" text-anchor="start" >−2</text>
<text x="20.2" y="267.8" font-size="17" font-weight="bold" font-style="normal" text-anchor="start" >−4</text>
<text x="8.0" y="237.5" font-size="17" font-weight="bold" font-style="normal" text-anchor="start" >q</text>
<text x="36.7" y="300.2" font-size="17" font-weight="bold" font-style="normal" text-anchor="start" >0.0</text>
<text x="65.5" y="331.0" font-size="17" font-weight="bold" font-style="normal" text-anchor="start" >0.5</text>
<text x="104.3" y="372.2" font-size="17" font-weight="bold" font-style="normal" text-anchor="start" >1.0</text>
<text x="73.3" y="352.0" font-size="16.5" font-weight="bold" font-style="italic" text-anchor="start" >ρ</text><rect x="438.4" y="200.4" width="7.2" height="7.2" fill="#f08a00" stroke="#c06000" stroke-width="0.9"/>
<rect x="440" y="202.0" width="3.4" height="3.4" fill="#ffb030" opacity="0.8"/>
<rect x="438.4" y="228.4" width="7.2" height="7.2" fill="#3a8ae8" stroke="#2a5aa8" stroke-width="0.9"/>
<rect x="440" y="230.0" width="3.4" height="3.4" fill="#8cc8ff" opacity="0.8"/>
<rect x="438.4" y="255.4" width="7.2" height="7.2" fill="#8db458" stroke="#6e9440" stroke-width="0.9"/>
<rect x="440" y="257.0" width="3.4" height="3.4" fill="#a6c878" opacity="0.8"/>
<text x="454.8" y="208.0" font-size="17" font-weight="bold" font-style="italic">ω<tspan x="469.8" y="211.4" font-size="12.5" font-weight="normal">ϕ</tspan></text>
<text x="454.8" y="236.3" font-size="17" font-weight="bold" font-style="normal" text-anchor="start" >q</text>
<text x="455.2" y="262.5" font-size="17" font-weight="bold" font-style="normal" text-anchor="start" >Plane 0</text></g>
<text font-size="19" font-weight="bold" y="27.3"><tspan x="130.0" y="27.3" font-style="italic">T</tspan><tspan x="140.3" y="31.2" font-size="15.5" font-weight="normal">3</tspan><tspan x="148.0" y="27.3">:</tspan><tspan x="156.3" y="27.3" font-style="italic">ϵ</tspan><tspan x="166.3" y="27.3">=</tspan><tspan x="177.4" y="27.3">−</tspan><tspan x="190.6" y="27.3">1</tspan><tspan x="201.6" y="27.3">, </tspan><tspan x="213.2" y="27.3" font-style="italic">ζ</tspan><tspan x="225.3" y="27.3">=</tspan><tspan x="237.0" y="27.3">3</tspan><tspan x="249.0" y="27.3">, </tspan><tspan x="260.6" y="27.3" font-style="italic">λ</tspan><tspan x="272.5" y="27.3">=</tspan><tspan x="283.7" y="27.3">1</tspan></text>
<text font-size="19" font-weight="bold" y="27.3"><tspan x="642.7" y="27.3" font-style="italic">T</tspan><tspan x="653.0" y="31.2" font-size="15.5" font-weight="normal">3</tspan><tspan x="660.7" y="27.3">:</tspan><tspan x="669.0" y="27.3" font-style="italic">ϵ</tspan><tspan x="679.0" y="27.3">=</tspan><tspan x="690.1" y="27.3">−</tspan><tspan x="703.3" y="27.3">1</tspan><tspan x="714.3" y="27.3">, </tspan><tspan x="725.9" y="27.3" font-style="italic">ζ</tspan><tspan x="738.0" y="27.3">=</tspan><tspan x="749.3" y="27.3">−</tspan><tspan x="761.3" y="27.3">3</tspan><tspan x="773.3" y="27.3">, </tspan><tspan x="784.9" y="27.3" font-style="italic">λ</tspan><tspan x="796.8" y="27.3">=</tspan><tspan x="808.1" y="27.3">−</tspan><tspan x="821.3" y="27.3">1</tspan></text>
</svg>
</body></html>
